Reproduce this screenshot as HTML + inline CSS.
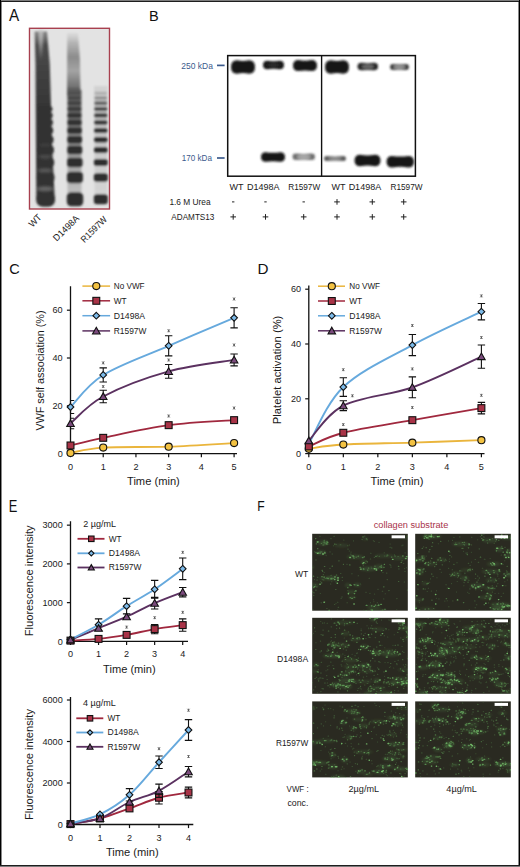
<!DOCTYPE html>
<html><head><meta charset="utf-8"><style>
html,body{margin:0;padding:0;background:#fff;width:520px;height:867px;overflow:hidden}
svg{display:block}
</style></head><body>
<svg width="520" height="867" viewBox="0 0 520 867" font-family='"Liberation Sans", sans-serif'>
<defs>
<filter id="b1" x="-30%" y="-60%" width="160%" height="220%"><feGaussianBlur stdDeviation="1.1"/></filter>
<filter id="b2" x="-30%" y="-60%" width="160%" height="220%"><feGaussianBlur stdDeviation="1.6"/></filter>
<filter id="b05" x="-30%" y="-30%" width="160%" height="160%"><feGaussianBlur stdDeviation="0.6"/></filter>
<filter id="gb" x="-100%" y="-100%" width="300%" height="300%"><feGaussianBlur stdDeviation="0.6"/></filter>
<filter id="hz" x="-50%" y="-50%" width="200%" height="200%"><feGaussianBlur stdDeviation="1.3"/></filter>
<linearGradient id="smear" x1="0" y1="0" x2="0" y2="1">
 <stop offset="0" stop-color="#555" stop-opacity="0.6"/>
 <stop offset="0.3" stop-color="#333" stop-opacity="0.95"/>
 <stop offset="1" stop-color="#2a2a2a" stop-opacity="1"/>
</linearGradient>
<linearGradient id="smearD" x1="0" y1="0" x2="0" y2="1">
 <stop offset="0" stop-color="#c4c4c4" stop-opacity="0.3"/>
 <stop offset="0.15" stop-color="#b0b0b0" stop-opacity="0.9"/>
 <stop offset="0.38" stop-color="#8c8c8c" stop-opacity="1"/>
 <stop offset="0.6" stop-color="#a4a4a4" stop-opacity="1"/>
 <stop offset="0.78" stop-color="#808080" stop-opacity="1"/>
 <stop offset="1" stop-color="#5a5a5a" stop-opacity="1"/>
</linearGradient>
<linearGradient id="wtS" x1="0" y1="0" x2="0" y2="1">
 <stop offset="0" stop-color="#777"/>
 <stop offset="0.4" stop-color="#4a4a4a"/>
 <stop offset="1" stop-color="#404040"/>
</linearGradient>
<linearGradient id="wtB" x1="0" y1="0" x2="0" y2="1">
 <stop offset="0" stop-color="#6a6a6a" stop-opacity="0.8"/>
 <stop offset="0.08" stop-color="#4a4a4a" stop-opacity="1"/>
 <stop offset="0.3" stop-color="#3e3e3e" stop-opacity="1"/>
 <stop offset="0.45" stop-color="#353535" stop-opacity="1"/>
 <stop offset="1" stop-color="#323232" stop-opacity="1"/>
</linearGradient>
<linearGradient id="laneD" x1="0" y1="0" x2="0" y2="1">
 <stop offset="0" stop-color="#5e5e5e"/>
 <stop offset="0.45" stop-color="#8c8c8c"/>
 <stop offset="0.75" stop-color="#b0b0b0"/>
 <stop offset="1" stop-color="#c4c4c4"/>
</linearGradient>
<linearGradient id="laneR" x1="0" y1="0" x2="0" y2="1">
 <stop offset="0" stop-color="#b8b8b8"/>
 <stop offset="0.5" stop-color="#c4c4c4"/>
 <stop offset="1" stop-color="#d2d2d2"/>
</linearGradient>
</defs>
<rect width="520" height="867" fill="#fff"/>
<text x="8.9" y="20.8" font-size="15.6" text-anchor="start" fill="#111" textLength="10.2" lengthAdjust="spacingAndGlyphs" >A</text>
<rect x="29.5" y="28.3" width="80.0" height="180.7" fill="#e3e3e3"/>
<g filter="url(#b1)">
<path d="M34.6 31.5 L47 31.5 L49.8 64 L52.3 150 L54.8 200 L36.3 200 L36 150 L35.5 64 Z" fill="url(#wtB)"/>
<path d="M38.6 30 L43.2 30 L41.4 50 L41 60 Z" fill="#c4c4c4" fill-opacity="0.95" filter="url(#b1)"/>
<rect x="36.10" y="191.80" width="19.00" height="15.00" rx="6.75" fill="#303030"/>
<rect x="36.55" y="171.25" width="18.00" height="12.50" rx="5.62" fill="#303030"/>
<rect x="36.75" y="157.00" width="17.50" height="11.00" rx="4.95" fill="#303030"/>
<rect x="36.95" y="145.50" width="17.00" height="9.00" rx="4.05" fill="#303030"/>
<rect x="37.20" y="135.70" width="16.40" height="8.00" rx="3.60" fill="#303030"/>
<rect x="37.45" y="127.00" width="15.80" height="7.00" rx="3.15" fill="#303030"/>
<rect x="37.65" y="119.25" width="15.30" height="6.50" rx="2.93" fill="#303030"/>
<rect x="37.80" y="112.40" width="14.90" height="6.00" rx="2.70" fill="#303030"/>
<rect x="37.90" y="106.25" width="14.60" height="5.50" rx="2.48" fill="#303030"/>
<ellipse cx="45.2" cy="188.90" rx="8.50" ry="2.40" fill="#8e8e8e" fill-opacity="0.60" filter="url(#b1)"/>
<ellipse cx="45.2" cy="170.50" rx="7.50" ry="2.05" fill="#8e8e8e" fill-opacity="0.46" filter="url(#b1)"/>
<ellipse cx="45.2" cy="156.75" rx="6.50" ry="1.70" fill="#8e8e8e" fill-opacity="0.32" filter="url(#b1)"/>
<ellipse cx="45.2" cy="145.35" rx="5.50" ry="1.35" fill="#8e8e8e" fill-opacity="0.18" filter="url(#b1)"/>
</g>
<g filter="url(#b1)">
<path d="M67.2 33 L78 33 L80 60 L80.5 96 L67 96 Z" fill="url(#smearD)"/>
<rect x="67.5" y="90" width="14" height="112" fill="url(#laneD)"/>
<rect x="66.75" y="192.30" width="16.50" height="14.00" rx="4.48" fill="#2e2e2e" fill-opacity="1"/>
<rect x="66.92" y="171.75" width="16.00" height="11.50" rx="3.68" fill="#2e2e2e" fill-opacity="1"/>
<rect x="67.09" y="157.75" width="15.50" height="9.50" rx="3.04" fill="#2e2e2e" fill-opacity="1"/>
<rect x="67.26" y="145.75" width="15.00" height="8.50" rx="2.72" fill="#2e2e2e" fill-opacity="1"/>
<rect x="67.28" y="135.95" width="14.80" height="7.50" rx="2.40" fill="#2e2e2e" fill-opacity="1"/>
<rect x="67.35" y="127.25" width="14.50" height="6.50" rx="2.08" fill="#2e2e2e" fill-opacity="1"/>
<rect x="67.42" y="119.50" width="14.20" height="6.00" rx="1.92" fill="#2e2e2e" fill-opacity="0.95"/>
<rect x="67.44" y="112.80" width="14.00" height="5.20" rx="1.66" fill="#2e2e2e" fill-opacity="0.9"/>
<rect x="67.46" y="106.70" width="13.80" height="4.60" rx="1.47" fill="#2e2e2e" fill-opacity="0.8"/>
<rect x="67.48" y="101.10" width="13.60" height="4.20" rx="1.34" fill="#2e2e2e" fill-opacity="0.65"/>
<rect x="67.50" y="96.10" width="13.40" height="3.80" rx="1.22" fill="#2e2e2e" fill-opacity="0.5"/>
<rect x="67.52" y="91.60" width="13.20" height="3.40" rx="1.09" fill="#2e2e2e" fill-opacity="0.35"/>
<rect x="67.54" y="87.45" width="13.00" height="3.10" rx="0.99" fill="#2e2e2e" fill-opacity="0.25"/>
</g>
<g filter="url(#b1)">
<rect x="94" y="86" width="13.5" height="24" fill="#aaa" fill-opacity="0.3"/>
<rect x="94.5" y="100" width="12.5" height="102" fill="url(#laneR)" fill-opacity="0.8"/>
<rect x="93.80" y="194.30" width="14.00" height="10.00" rx="3.20" fill="#2e2e2e" fill-opacity="1"/>
<rect x="93.80" y="173.25" width="14.00" height="8.50" rx="2.72" fill="#2e2e2e" fill-opacity="1"/>
<rect x="93.90" y="159.00" width="13.80" height="7.00" rx="2.24" fill="#2e2e2e" fill-opacity="1"/>
<rect x="94.00" y="147.00" width="13.60" height="6.00" rx="1.92" fill="#2e2e2e" fill-opacity="1"/>
<rect x="94.10" y="136.95" width="13.40" height="5.50" rx="1.76" fill="#2e2e2e" fill-opacity="1"/>
<rect x="94.20" y="128.00" width="13.20" height="5.00" rx="1.60" fill="#2e2e2e" fill-opacity="0.95"/>
<rect x="94.30" y="120.25" width="13.00" height="4.50" rx="1.44" fill="#2e2e2e" fill-opacity="0.92"/>
<rect x="94.30" y="113.30" width="13.00" height="4.20" rx="1.34" fill="#2e2e2e" fill-opacity="0.88"/>
<rect x="94.40" y="107.10" width="12.80" height="3.80" rx="1.22" fill="#2e2e2e" fill-opacity="0.8"/>
<rect x="94.50" y="101.45" width="12.60" height="3.50" rx="1.12" fill="#2e2e2e" fill-opacity="0.65"/>
<rect x="94.55" y="96.40" width="12.50" height="3.20" rx="1.02" fill="#2e2e2e" fill-opacity="0.45"/>
<rect x="94.60" y="91.80" width="12.40" height="3.00" rx="0.96" fill="#2e2e2e" fill-opacity="0.22"/>
</g>
<rect x="29.5" y="28.3" width="80.0" height="180.7" fill="none" stroke="#a8404f" stroke-width="1.4"/>
<text x="39.8" y="215.6" font-size="9.4" text-anchor="end" fill="#1a1a1a" transform="rotate(-45 39.8 215.6)" dy="3.4" textLength="13.8" lengthAdjust="spacingAndGlyphs">WT</text>
<text x="77.2" y="216.6" font-size="9.4" text-anchor="end" fill="#1a1a1a" transform="rotate(-45 77.2 216.6)" dy="3.4" textLength="32.2" lengthAdjust="spacingAndGlyphs">D1498A</text>
<text x="105.2" y="217.6" font-size="9.4" text-anchor="end" fill="#1a1a1a" transform="rotate(-45 105.2 217.6)" dy="3.4" textLength="32.8" lengthAdjust="spacingAndGlyphs">R1597W</text>
<text x="149" y="20.8" font-size="14.5" text-anchor="start" fill="#111" >B</text>
<g filter="url(#b1)">
<path d="M237.00 60.25Q243.00 61.73 249.00 60.25Q255.00 60.25 255.00 67.00Q255.00 73.75 249.00 73.75Q243.00 72.27 237.00 73.75Q231.00 73.75 231.00 67.00Q231.00 60.25 237.00 60.25Z" fill="#151515" fill-opacity="1"/>
<path d="M267.25 60.75Q273.50 61.69 279.75 60.75Q284.00 60.75 284.00 65.00Q284.00 69.25 279.75 69.25Q273.50 68.31 267.25 69.25Q263.00 69.25 263.00 65.00Q263.00 60.75 267.25 60.75Z" fill="#151515" fill-opacity="1"/>
<ellipse cx="273.50" cy="65.00" rx="6.30" ry="2.55" fill="#fff" fill-opacity="0.1"/>
<path d="M298.50 60.10Q305.00 61.31 311.50 60.10Q317.00 60.10 317.00 65.60Q317.00 71.10 311.50 71.10Q305.00 69.89 298.50 71.10Q293.00 71.10 293.00 65.60Q293.00 60.10 298.50 60.10Z" fill="#151515" fill-opacity="1"/>
<path d="M331.00 60.25Q337.00 61.73 343.00 60.25Q349.00 60.25 349.00 67.00Q349.00 73.75 343.00 73.75Q337.00 72.27 331.00 73.75Q325.00 73.75 325.00 67.00Q325.00 60.25 331.00 60.25Z" fill="#151515" fill-opacity="1"/>
<path d="M361.25 62.85Q367.75 63.67 374.25 62.85Q378.00 62.85 378.00 66.60Q378.00 70.35 374.25 70.35Q367.75 69.52 361.25 70.35Q357.50 70.35 357.50 66.60Q357.50 62.85 361.25 62.85Z" fill="#1a1a1a" fill-opacity="0.95"/>
<ellipse cx="367.75" cy="66.60" rx="6.15" ry="2.25" fill="#fff" fill-opacity="0.3"/>
<path d="M393.00 64.00Q399.50 64.66 406.00 64.00Q409.00 64.00 409.00 67.00Q409.00 70.00 406.00 70.00Q399.50 69.34 393.00 70.00Q390.00 70.00 390.00 67.00Q390.00 64.00 393.00 64.00Z" fill="#222" fill-opacity="0.85"/>
<ellipse cx="399.50" cy="67.00" rx="5.70" ry="1.80" fill="#fff" fill-opacity="0.45"/>
<path d="M265.75 152.25Q273.00 153.29 280.25 152.25Q285.00 152.25 285.00 157.00Q285.00 161.75 280.25 161.75Q273.00 160.71 265.75 161.75Q261.00 161.75 261.00 157.00Q261.00 152.25 265.75 152.25Z" fill="#151515" fill-opacity="1"/>
<path d="M295.75 153.55Q303.75 154.27 311.75 153.55Q315.00 153.55 315.00 156.80Q315.00 160.05 311.75 160.05Q303.75 159.34 295.75 160.05Q292.50 160.05 292.50 156.80Q292.50 153.55 295.75 153.55Z" fill="#333" fill-opacity="0.7"/>
<ellipse cx="303.75" cy="156.80" rx="6.75" ry="1.95" fill="#fff" fill-opacity="0.4"/>
<path d="M326.50 156.10Q335.00 156.65 343.50 156.10Q346.00 156.10 346.00 158.60Q346.00 161.10 343.50 161.10Q335.00 160.55 326.50 161.10Q324.00 161.10 324.00 158.60Q324.00 156.10 326.50 156.10Z" fill="#333" fill-opacity="0.8"/>
<ellipse cx="335.00" cy="158.60" rx="6.60" ry="1.50" fill="#fff" fill-opacity="0.3"/>
<path d="M360.25 154.75Q367.50 156.01 374.75 154.75Q380.50 154.75 380.50 160.50Q380.50 166.25 374.75 166.25Q367.50 164.99 360.25 166.25Q354.50 166.25 354.50 160.50Q354.50 154.75 360.25 154.75Z" fill="#151515" fill-opacity="1"/>
<path d="M392.25 155.95Q400.25 157.21 408.25 155.95Q414.00 155.95 414.00 161.70Q414.00 167.45 408.25 167.45Q400.25 166.19 392.25 167.45Q386.50 167.45 386.50 161.70Q386.50 155.95 392.25 155.95Z" fill="#151515" fill-opacity="1"/>
</g>
<rect x="227.7" y="55.6" width="187.7" height="120.6" fill="none" stroke="#111" stroke-width="1.5"/>
<line x1="321.6" y1="55.6" x2="321.6" y2="176.2" stroke="#111" stroke-width="1.4"/>
<text x="212.9" y="68.6" font-size="9.2" text-anchor="end" fill="#3b5a8c" textLength="31.6" lengthAdjust="spacingAndGlyphs" >250 kDa</text>
<text x="212.0" y="161.2" font-size="9.2" text-anchor="end" fill="#3b5a8c" textLength="30.2" lengthAdjust="spacingAndGlyphs" >170 kDa</text>
<line x1="217" y1="65.4" x2="224.6" y2="65.4" stroke="#3b5a8c" stroke-width="1.7"/>
<line x1="217" y1="158" x2="224.6" y2="158" stroke="#3b5a8c" stroke-width="1.7"/>
<text x="236.6" y="190.2" font-size="9" text-anchor="middle" fill="#1a1a1a" >WT</text>
<text x="263.3" y="190.2" font-size="9" text-anchor="middle" fill="#1a1a1a" >D1498A</text>
<text x="304.2" y="190.2" font-size="9" text-anchor="middle" fill="#1a1a1a" textLength="32" lengthAdjust="spacingAndGlyphs" >R1597W</text>
<text x="338.4" y="190.2" font-size="9" text-anchor="middle" fill="#1a1a1a" >WT</text>
<text x="364.9" y="190.2" font-size="9" text-anchor="middle" fill="#1a1a1a" >D1498A</text>
<text x="406.5" y="190.2" font-size="9" text-anchor="middle" fill="#1a1a1a" textLength="32" lengthAdjust="spacingAndGlyphs" >R1597W</text>
<text x="169.4" y="204.6" font-size="9" text-anchor="start" fill="#1a1a1a" textLength="41.2" lengthAdjust="spacingAndGlyphs" >1.6 M Urea</text>
<text x="171.3" y="219.9" font-size="9" text-anchor="start" fill="#1a1a1a" textLength="43.1" lengthAdjust="spacingAndGlyphs" >ADAMTS13</text>
<line x1="232.0" y1="201.9" x2="234.39999999999998" y2="201.9" stroke="#222" stroke-width="1"/>
<path d="M230.39999999999998 216.9H236.0M233.2 214.1V219.7" stroke="#222" stroke-width="1"/>
<line x1="264.3" y1="201.9" x2="266.7" y2="201.9" stroke="#222" stroke-width="1"/>
<path d="M262.7 216.9H268.3M265.5 214.1V219.7" stroke="#222" stroke-width="1"/>
<line x1="302.5" y1="201.9" x2="304.9" y2="201.9" stroke="#222" stroke-width="1"/>
<path d="M300.9 216.9H306.5M303.7 214.1V219.7" stroke="#222" stroke-width="1"/>
<path d="M334.2 201.9H339.8M337 199.1V204.7" stroke="#222" stroke-width="1"/>
<path d="M334.2 216.9H339.8M337 214.1V219.7" stroke="#222" stroke-width="1"/>
<path d="M369.5 201.9H375.1M372.3 199.1V204.7" stroke="#222" stroke-width="1"/>
<path d="M369.5 216.9H375.1M372.3 214.1V219.7" stroke="#222" stroke-width="1"/>
<path d="M400.9 201.9H406.5M403.7 199.1V204.7" stroke="#222" stroke-width="1"/>
<path d="M400.9 216.9H406.5M403.7 214.1V219.7" stroke="#222" stroke-width="1"/>
<text x="9.3" y="274.3" font-size="14.5" text-anchor="start" fill="#111" >C</text>
<path d="M70.5 286.2V453.6H237" stroke="#111" stroke-width="1.3" fill="none"/>
<line x1="70.5" y1="453.6" x2="70.5" y2="457.20000000000005" stroke="#111" stroke-width="1.2"/>
<text x="70.5" y="469.6" font-size="9.1" text-anchor="middle" fill="#1a1a1a" >0</text>
<line x1="103.22" y1="453.6" x2="103.22" y2="457.20000000000005" stroke="#111" stroke-width="1.2"/>
<text x="103.22" y="469.6" font-size="9.1" text-anchor="middle" fill="#1a1a1a" >1</text>
<line x1="135.94" y1="453.6" x2="135.94" y2="457.20000000000005" stroke="#111" stroke-width="1.2"/>
<text x="135.94" y="469.6" font-size="9.1" text-anchor="middle" fill="#1a1a1a" >2</text>
<line x1="168.66" y1="453.6" x2="168.66" y2="457.20000000000005" stroke="#111" stroke-width="1.2"/>
<text x="168.66" y="469.6" font-size="9.1" text-anchor="middle" fill="#1a1a1a" >3</text>
<line x1="201.38" y1="453.6" x2="201.38" y2="457.20000000000005" stroke="#111" stroke-width="1.2"/>
<text x="201.38" y="469.6" font-size="9.1" text-anchor="middle" fill="#1a1a1a" >4</text>
<line x1="234.1" y1="453.6" x2="234.1" y2="457.20000000000005" stroke="#111" stroke-width="1.2"/>
<text x="234.1" y="469.6" font-size="9.1" text-anchor="middle" fill="#1a1a1a" >5</text>
<line x1="66.9" y1="453.6" x2="70.5" y2="453.6" stroke="#111" stroke-width="1.2"/>
<text x="62.7" y="456.70000000000005" font-size="9.1" text-anchor="end" fill="#1a1a1a" >0</text>
<line x1="66.9" y1="405.8" x2="70.5" y2="405.8" stroke="#111" stroke-width="1.2"/>
<text x="62.7" y="408.90000000000003" font-size="9.1" text-anchor="end" fill="#1a1a1a" >20</text>
<line x1="66.9" y1="358.0" x2="70.5" y2="358.0" stroke="#111" stroke-width="1.2"/>
<text x="62.7" y="361.1" font-size="9.1" text-anchor="end" fill="#1a1a1a" >40</text>
<line x1="66.9" y1="310.20000000000005" x2="70.5" y2="310.20000000000005" stroke="#111" stroke-width="1.2"/>
<text x="62.7" y="313.30000000000007" font-size="9.1" text-anchor="end" fill="#1a1a1a" >60</text>
<text transform="translate(43.9 370.5) rotate(-90)" font-size="10.9" text-anchor="middle" fill="#1a1a1a" textLength="120" lengthAdjust="spacingAndGlyphs">VWF self association (%)</text>
<text x="153.4" y="485" font-size="11.2" text-anchor="middle" fill="#1a1a1a" textLength="52.8" lengthAdjust="spacingAndGlyphs" >Time (min)</text>
<path d="M70.50 452.88C75.95 452.01 86.86 448.66 103.22 447.62C119.58 446.59 146.85 447.43 168.66 446.67C190.47 445.91 223.19 443.68 234.10 443.08" stroke="#eab53c" stroke-width="1.9" fill="none"/>
<path d="M70.50 445.47C75.95 444.20 86.86 441.21 103.22 437.83C119.58 434.44 146.85 428.11 168.66 425.16C190.47 422.21 223.19 420.98 234.10 420.14" stroke="#a0283e" stroke-width="1.9" fill="none"/>
<path d="M70.50 423.49C75.95 418.98 86.86 405.16 103.22 396.48C119.58 387.80 146.85 377.48 168.66 371.38C190.47 365.29 223.19 361.82 234.10 359.91" stroke="#5b3160" stroke-width="1.9" fill="none"/>
<path d="M70.50 407.00C75.95 401.66 86.86 385.17 103.22 374.97C119.58 364.77 146.85 355.33 168.66 345.81C190.47 336.29 223.19 322.51 234.10 317.85" stroke="#66a9dd" stroke-width="1.9" fill="none"/>
<circle cx="70.50" cy="452.88" r="3.55" fill="#f3c242" stroke="#111" stroke-width="1.1"/>
<circle cx="103.22" cy="447.62" r="3.55" fill="#f3c242" stroke="#111" stroke-width="1.1"/>
<circle cx="168.66" cy="446.67" r="3.55" fill="#f3c242" stroke="#111" stroke-width="1.1"/>
<circle cx="234.10" cy="443.08" r="3.55" fill="#f3c242" stroke="#111" stroke-width="1.1"/>
<rect x="67.05" y="442.02" width="6.90" height="6.90" fill="#a83347" stroke="#111" stroke-width="1.1"/>
<rect x="99.77" y="434.38" width="6.90" height="6.90" fill="#a83347" stroke="#111" stroke-width="1.1"/>
<rect x="165.21" y="421.71" width="6.90" height="6.90" fill="#a83347" stroke="#111" stroke-width="1.1"/>
<rect x="230.65" y="416.69" width="6.90" height="6.90" fill="#a83347" stroke="#111" stroke-width="1.1"/>
<path d="M70.50 418.23V428.74M70.50 418.23H74.20M70.50 428.74H74.20" stroke="#111" stroke-width="1.1" fill="none"/>
<path d="M70.50 419.89L74.28 426.55L66.72 426.55Z" fill="#7b4b7d" stroke="#111" stroke-width="1.1" stroke-linejoin="miter"/>
<path d="M103.22 390.27V402.69M99.52 390.27H106.92M99.52 402.69H106.92" stroke="#111" stroke-width="1.1" fill="none"/>
<path d="M103.22 392.88L107.00 399.54L99.44 399.54Z" fill="#7b4b7d" stroke="#111" stroke-width="1.1" stroke-linejoin="miter"/>
<path d="M168.66 364.45V378.32M164.96 364.45H172.36M164.96 378.32H172.36" stroke="#111" stroke-width="1.1" fill="none"/>
<path d="M168.66 367.78L172.44 374.44L164.88 374.44Z" fill="#7b4b7d" stroke="#111" stroke-width="1.1" stroke-linejoin="miter"/>
<path d="M234.10 353.94V365.89M230.40 353.94H237.80M230.40 365.89H237.80" stroke="#111" stroke-width="1.1" fill="none"/>
<path d="M234.10 356.31L237.88 362.97L230.32 362.97Z" fill="#7b4b7d" stroke="#111" stroke-width="1.1" stroke-linejoin="miter"/>
<path d="M70.50 400.54V413.45M70.50 400.54H74.20M70.50 413.45H74.20" stroke="#111" stroke-width="1.1" fill="none"/>
<path d="M70.50 403.64L73.85 407.00L70.50 410.35L67.15 407.00Z" fill="#7dbbea" stroke="#111" stroke-width="1.1"/>
<path d="M103.22 367.92V382.02M99.52 367.92H106.92M99.52 382.02H106.92" stroke="#111" stroke-width="1.1" fill="none"/>
<path d="M103.22 371.62L106.57 374.97L103.22 378.32L99.87 374.97Z" fill="#7dbbea" stroke="#111" stroke-width="1.1"/>
<path d="M168.66 335.77V355.85M164.96 335.77H172.36M164.96 355.85H172.36" stroke="#111" stroke-width="1.1" fill="none"/>
<path d="M168.66 342.46L172.01 345.81L168.66 349.16L165.31 345.81Z" fill="#7dbbea" stroke="#111" stroke-width="1.1"/>
<path d="M234.10 307.81V327.89M230.40 307.81H237.80M230.40 327.89H237.80" stroke="#111" stroke-width="1.1" fill="none"/>
<path d="M234.10 314.50L237.45 317.85L234.10 321.20L230.75 317.85Z" fill="#7dbbea" stroke="#111" stroke-width="1.1"/>
<path d="M102.12 361.50L104.32 364.30M104.32 361.50L102.12 364.30M103.22 361.40V364.40" stroke="#555" stroke-width="0.8" fill="none"/>
<path d="M102.12 385.10L104.32 387.90M104.32 385.10L102.12 387.90M103.22 385.00V388.00" stroke="#555" stroke-width="0.8" fill="none"/>
<path d="M167.56 329.40L169.76 332.20M169.76 329.40L167.56 332.20M168.66 329.30V332.30" stroke="#555" stroke-width="0.8" fill="none"/>
<path d="M167.56 358.60L169.76 361.40M169.76 358.60L167.56 361.40M168.66 358.50V361.50" stroke="#555" stroke-width="0.8" fill="none"/>
<path d="M167.56 414.60L169.76 417.40M169.76 414.60L167.56 417.40M168.66 414.50V417.50" stroke="#555" stroke-width="0.8" fill="none"/>
<path d="M233.00 297.60L235.20 300.40M235.20 297.60L233.00 300.40M234.10 297.50V300.50" stroke="#555" stroke-width="0.8" fill="none"/>
<path d="M233.00 343.60L235.20 346.40M235.20 343.60L233.00 346.40M234.10 343.50V346.50" stroke="#555" stroke-width="0.8" fill="none"/>
<path d="M233.00 406.60L235.20 409.40M235.20 406.60L233.00 409.40M234.10 406.50V409.50" stroke="#555" stroke-width="0.8" fill="none"/>
<line x1="82.4" y1="286.1" x2="110.1" y2="286.1" stroke="#eab53c" stroke-width="1.5"/>
<circle cx="96.30" cy="286.10" r="3.55" fill="#f3c242" stroke="#111" stroke-width="1.1"/>
<text x="113.8" y="289.0" font-size="8.7" text-anchor="start" fill="#1a1a1a" textLength="30.8" lengthAdjust="spacingAndGlyphs" >No VWF</text>
<line x1="82.4" y1="300.8" x2="110.1" y2="300.8" stroke="#a0283e" stroke-width="1.5"/>
<rect x="92.85" y="297.35" width="6.90" height="6.90" fill="#a83347" stroke="#111" stroke-width="1.1"/>
<text x="113.8" y="303.7" font-size="8.7" text-anchor="start" fill="#1a1a1a" textLength="12.9" lengthAdjust="spacingAndGlyphs" >WT</text>
<line x1="82.4" y1="315.7" x2="110.1" y2="315.7" stroke="#66a9dd" stroke-width="1.5"/>
<path d="M96.30 312.35L99.65 315.70L96.30 319.05L92.95 315.70Z" fill="#7dbbea" stroke="#111" stroke-width="1.1"/>
<text x="113.8" y="318.59999999999997" font-size="8.7" text-anchor="start" fill="#1a1a1a" textLength="31.2" lengthAdjust="spacingAndGlyphs" >D1498A</text>
<line x1="82.4" y1="330.9" x2="110.1" y2="330.9" stroke="#5b3160" stroke-width="1.5"/>
<path d="M96.30 327.30L100.08 333.96L92.52 333.96Z" fill="#7b4b7d" stroke="#111" stroke-width="1.1" stroke-linejoin="miter"/>
<text x="113.8" y="333.79999999999995" font-size="8.7" text-anchor="start" fill="#1a1a1a" textLength="32.6" lengthAdjust="spacingAndGlyphs" >R1597W</text>
<text x="257.6" y="273.6" font-size="15.4" text-anchor="start" fill="#111" textLength="11" lengthAdjust="spacingAndGlyphs" >D</text>
<path d="M308.8 285.5V453.6H484.5" stroke="#111" stroke-width="1.3" fill="none"/>
<line x1="308.8" y1="453.6" x2="308.8" y2="457.20000000000005" stroke="#111" stroke-width="1.2"/>
<text x="308.8" y="469.6" font-size="9.1" text-anchor="middle" fill="#1a1a1a" >0</text>
<line x1="343.32" y1="453.6" x2="343.32" y2="457.20000000000005" stroke="#111" stroke-width="1.2"/>
<text x="343.32" y="469.6" font-size="9.1" text-anchor="middle" fill="#1a1a1a" >1</text>
<line x1="377.84000000000003" y1="453.6" x2="377.84000000000003" y2="457.20000000000005" stroke="#111" stroke-width="1.2"/>
<text x="377.84000000000003" y="469.6" font-size="9.1" text-anchor="middle" fill="#1a1a1a" >2</text>
<line x1="412.36" y1="453.6" x2="412.36" y2="457.20000000000005" stroke="#111" stroke-width="1.2"/>
<text x="412.36" y="469.6" font-size="9.1" text-anchor="middle" fill="#1a1a1a" >3</text>
<line x1="446.88" y1="453.6" x2="446.88" y2="457.20000000000005" stroke="#111" stroke-width="1.2"/>
<text x="446.88" y="469.6" font-size="9.1" text-anchor="middle" fill="#1a1a1a" >4</text>
<line x1="481.40000000000003" y1="453.6" x2="481.40000000000003" y2="457.20000000000005" stroke="#111" stroke-width="1.2"/>
<text x="481.40000000000003" y="469.6" font-size="9.1" text-anchor="middle" fill="#1a1a1a" >5</text>
<line x1="305.2" y1="453.6" x2="308.8" y2="453.6" stroke="#111" stroke-width="1.2"/>
<text x="301.0" y="456.70000000000005" font-size="9.1" text-anchor="end" fill="#1a1a1a" >0</text>
<line x1="305.2" y1="398.8" x2="308.8" y2="398.8" stroke="#111" stroke-width="1.2"/>
<text x="301.0" y="401.90000000000003" font-size="9.1" text-anchor="end" fill="#1a1a1a" >20</text>
<line x1="305.2" y1="344.0" x2="308.8" y2="344.0" stroke="#111" stroke-width="1.2"/>
<text x="301.0" y="347.1" font-size="9.1" text-anchor="end" fill="#1a1a1a" >40</text>
<line x1="305.2" y1="289.20000000000005" x2="308.8" y2="289.20000000000005" stroke="#111" stroke-width="1.2"/>
<text x="301.0" y="292.30000000000007" font-size="9.1" text-anchor="end" fill="#1a1a1a" >60</text>
<text transform="translate(281.4 369.9) rotate(-90)" font-size="10.8" text-anchor="middle" fill="#1a1a1a" textLength="108.5" lengthAdjust="spacingAndGlyphs">Platelet activation (%)</text>
<text x="397" y="485" font-size="11.2" text-anchor="middle" fill="#1a1a1a" textLength="52.8" lengthAdjust="spacingAndGlyphs" >Time (min)</text>
<path d="M308.80 448.67C314.55 447.98 326.06 445.56 343.32 444.56C360.58 443.55 389.35 443.37 412.36 442.64C435.37 441.91 469.89 440.59 481.40 440.17" stroke="#eab53c" stroke-width="1.9" fill="none"/>
<path d="M308.80 446.48C314.55 444.19 326.06 437.16 343.32 432.78C360.58 428.39 389.35 424.28 412.36 420.17C435.37 416.06 469.89 410.13 481.40 408.12" stroke="#a0283e" stroke-width="1.9" fill="none"/>
<path d="M308.80 444.01C314.55 434.51 326.06 403.50 343.32 387.02C360.58 370.53 389.35 357.65 412.36 345.10C435.37 332.54 469.89 317.24 481.40 311.67" stroke="#66a9dd" stroke-width="1.9" fill="none"/>
<path d="M308.80 440.72C314.55 434.88 326.06 414.56 343.32 405.65C360.58 396.75 389.35 395.47 412.36 387.29C435.37 379.12 469.89 361.72 481.40 356.60" stroke="#5b3160" stroke-width="1.9" fill="none"/>
<circle cx="308.80" cy="448.67" r="3.55" fill="#f3c242" stroke="#111" stroke-width="1.1"/>
<circle cx="343.32" cy="444.56" r="3.55" fill="#f3c242" stroke="#111" stroke-width="1.1"/>
<circle cx="412.36" cy="442.64" r="3.55" fill="#f3c242" stroke="#111" stroke-width="1.1"/>
<circle cx="481.40" cy="440.17" r="3.55" fill="#f3c242" stroke="#111" stroke-width="1.1"/>
<path d="M308.80 440.66L312.15 444.01L308.80 447.36L305.45 444.01Z" fill="#7dbbea" stroke="#111" stroke-width="1.1"/>
<path d="M343.32 377.70V396.33M339.62 377.70H347.02M339.62 396.33H347.02" stroke="#111" stroke-width="1.1" fill="none"/>
<path d="M343.32 383.67L346.67 387.02L343.32 390.37L339.97 387.02Z" fill="#7dbbea" stroke="#111" stroke-width="1.1"/>
<path d="M412.36 334.55V355.65M408.66 334.55H416.06M408.66 355.65H416.06" stroke="#111" stroke-width="1.1" fill="none"/>
<path d="M412.36 341.75L415.71 345.10L412.36 348.45L409.01 345.10Z" fill="#7dbbea" stroke="#111" stroke-width="1.1"/>
<path d="M481.40 303.45V319.89M477.70 303.45H485.10M477.70 319.89H485.10" stroke="#111" stroke-width="1.1" fill="none"/>
<path d="M481.40 308.32L484.75 311.67L481.40 315.02L478.05 311.67Z" fill="#7dbbea" stroke="#111" stroke-width="1.1"/>
<rect x="305.35" y="443.03" width="6.90" height="6.90" fill="#a83347" stroke="#111" stroke-width="1.1"/>
<rect x="339.87" y="429.33" width="6.90" height="6.90" fill="#a83347" stroke="#111" stroke-width="1.1"/>
<rect x="408.91" y="416.72" width="6.90" height="6.90" fill="#a83347" stroke="#111" stroke-width="1.1"/>
<path d="M481.40 402.36V413.87M477.70 402.36H485.10M477.70 413.87H485.10" stroke="#111" stroke-width="1.1" fill="none"/>
<rect x="477.95" y="404.67" width="6.90" height="6.90" fill="#a83347" stroke="#111" stroke-width="1.1"/>
<path d="M308.80 437.12L312.58 443.78L305.02 443.78Z" fill="#7b4b7d" stroke="#111" stroke-width="1.1" stroke-linejoin="miter"/>
<path d="M343.32 400.72V410.58M339.62 400.72H347.02M339.62 410.58H347.02" stroke="#111" stroke-width="1.1" fill="none"/>
<path d="M343.32 402.05L347.10 408.71L339.54 408.71Z" fill="#7b4b7d" stroke="#111" stroke-width="1.1" stroke-linejoin="miter"/>
<path d="M412.36 376.88V397.70M408.66 376.88H416.06M408.66 397.70H416.06" stroke="#111" stroke-width="1.1" fill="none"/>
<path d="M412.36 383.69L416.14 390.35L408.58 390.35Z" fill="#7b4b7d" stroke="#111" stroke-width="1.1" stroke-linejoin="miter"/>
<path d="M481.40 344.96V368.25M477.70 344.96H485.10M477.70 368.25H485.10" stroke="#111" stroke-width="1.1" fill="none"/>
<path d="M481.40 353.00L485.18 359.66L477.62 359.66Z" fill="#7b4b7d" stroke="#111" stroke-width="1.1" stroke-linejoin="miter"/>
<path d="M342.22 368.30L344.42 371.10M344.42 368.30L342.22 371.10M343.32 368.20V371.20" stroke="#555" stroke-width="0.8" fill="none"/>
<path d="M351.32 394.40L353.52 397.20M353.52 394.40L351.32 397.20M352.42 394.30V397.30" stroke="#555" stroke-width="0.8" fill="none"/>
<path d="M342.22 423.20L344.42 426.00M344.42 423.20L342.22 426.00M343.32 423.10V426.10" stroke="#555" stroke-width="0.8" fill="none"/>
<path d="M411.26 324.10L413.46 326.90M413.46 324.10L411.26 326.90M412.36 324.00V327.00" stroke="#555" stroke-width="0.8" fill="none"/>
<path d="M411.26 367.50L413.46 370.30M413.46 367.50L411.26 370.30M412.36 367.40V370.40" stroke="#555" stroke-width="0.8" fill="none"/>
<path d="M411.26 406.10L413.46 408.90M413.46 406.10L411.26 408.90M412.36 406.00V409.00" stroke="#555" stroke-width="0.8" fill="none"/>
<path d="M480.30 294.50L482.50 297.30M482.50 294.50L480.30 297.30M481.40 294.40V297.40" stroke="#555" stroke-width="0.8" fill="none"/>
<path d="M480.30 336.10L482.50 338.90M482.50 336.10L480.30 338.90M481.40 336.00V339.00" stroke="#555" stroke-width="0.8" fill="none"/>
<path d="M480.30 393.90L482.50 396.70M482.50 393.90L480.30 396.70M481.40 393.80V396.80" stroke="#555" stroke-width="0.8" fill="none"/>
<line x1="318" y1="286.2" x2="345" y2="286.2" stroke="#eab53c" stroke-width="1.5"/>
<circle cx="331.80" cy="286.20" r="3.55" fill="#f3c242" stroke="#111" stroke-width="1.1"/>
<text x="349.3" y="289.09999999999997" font-size="8.7" text-anchor="start" fill="#1a1a1a" textLength="30.8" lengthAdjust="spacingAndGlyphs" >No VWF</text>
<line x1="318" y1="301" x2="345" y2="301" stroke="#a0283e" stroke-width="1.5"/>
<rect x="328.35" y="297.55" width="6.90" height="6.90" fill="#a83347" stroke="#111" stroke-width="1.1"/>
<text x="349.3" y="303.9" font-size="8.7" text-anchor="start" fill="#1a1a1a" textLength="12.9" lengthAdjust="spacingAndGlyphs" >WT</text>
<line x1="318" y1="315.8" x2="345" y2="315.8" stroke="#66a9dd" stroke-width="1.5"/>
<path d="M331.80 312.45L335.15 315.80L331.80 319.15L328.45 315.80Z" fill="#7dbbea" stroke="#111" stroke-width="1.1"/>
<text x="349.3" y="318.7" font-size="8.7" text-anchor="start" fill="#1a1a1a" textLength="31.2" lengthAdjust="spacingAndGlyphs" >D1498A</text>
<line x1="318" y1="330.8" x2="345" y2="330.8" stroke="#5b3160" stroke-width="1.5"/>
<path d="M331.80 327.20L335.58 333.86L328.02 333.86Z" fill="#7b4b7d" stroke="#111" stroke-width="1.1" stroke-linejoin="miter"/>
<text x="349.3" y="333.7" font-size="8.7" text-anchor="start" fill="#1a1a1a" textLength="32.6" lengthAdjust="spacingAndGlyphs" >R1597W</text>
<text x="8.8" y="511.8" font-size="16" text-anchor="start" fill="#111" textLength="8.6" lengthAdjust="spacingAndGlyphs" >E</text>
<path d="M70.5 521.3V641.4H188" stroke="#111" stroke-width="1.3" fill="none"/>
<line x1="70.5" y1="641.4" x2="70.5" y2="645.0" stroke="#111" stroke-width="1.2"/>
<text x="70.5" y="657.4" font-size="9.1" text-anchor="middle" fill="#1a1a1a" >0</text>
<line x1="98.55" y1="641.4" x2="98.55" y2="645.0" stroke="#111" stroke-width="1.2"/>
<text x="98.55" y="657.4" font-size="9.1" text-anchor="middle" fill="#1a1a1a" >1</text>
<line x1="126.6" y1="641.4" x2="126.6" y2="645.0" stroke="#111" stroke-width="1.2"/>
<text x="126.6" y="657.4" font-size="9.1" text-anchor="middle" fill="#1a1a1a" >2</text>
<line x1="154.65" y1="641.4" x2="154.65" y2="645.0" stroke="#111" stroke-width="1.2"/>
<text x="154.65" y="657.4" font-size="9.1" text-anchor="middle" fill="#1a1a1a" >3</text>
<line x1="182.7" y1="641.4" x2="182.7" y2="645.0" stroke="#111" stroke-width="1.2"/>
<text x="182.7" y="657.4" font-size="9.1" text-anchor="middle" fill="#1a1a1a" >4</text>
<line x1="66.9" y1="641.4" x2="70.5" y2="641.4" stroke="#111" stroke-width="1.2"/>
<text x="62.7" y="644.5" font-size="9.1" text-anchor="end" fill="#1a1a1a" >0</text>
<line x1="66.9" y1="602.65" x2="70.5" y2="602.65" stroke="#111" stroke-width="1.2"/>
<text x="62.7" y="605.75" font-size="9.1" text-anchor="end" fill="#1a1a1a" >1000</text>
<line x1="66.9" y1="563.9" x2="70.5" y2="563.9" stroke="#111" stroke-width="1.2"/>
<text x="62.7" y="567.0" font-size="9.1" text-anchor="end" fill="#1a1a1a" >2000</text>
<line x1="66.9" y1="525.15" x2="70.5" y2="525.15" stroke="#111" stroke-width="1.2"/>
<text x="62.7" y="528.25" font-size="9.1" text-anchor="end" fill="#1a1a1a" >3000</text>
<text transform="translate(32.6 580.8) rotate(-90)" font-size="11.6" text-anchor="middle" fill="#1a1a1a" textLength="111" lengthAdjust="spacingAndGlyphs">Fluorescence intensity</text>
<text x="129.4" y="673" font-size="11.2" text-anchor="middle" fill="#1a1a1a" textLength="52.6" lengthAdjust="spacingAndGlyphs" >Time (min)</text>
<text x="83.3" y="527.3" font-size="9" text-anchor="start" fill="#1a1a1a" >2 µg/mL</text>
<path d="M70.50 640.62C75.17 640.33 89.20 639.84 98.55 638.88C107.90 637.93 117.25 636.52 126.60 634.89C135.95 633.26 145.30 630.70 154.65 629.08C164.00 627.45 178.02 625.78 182.70 625.12" stroke="#a0283e" stroke-width="1.9" fill="none"/>
<path d="M70.50 639.85C75.17 637.91 89.20 632.08 98.55 628.23C107.90 624.37 117.25 620.89 126.60 616.72C135.95 612.54 145.30 607.28 154.65 603.19C164.00 599.10 178.02 594.02 182.70 592.19" stroke="#5b3160" stroke-width="1.9" fill="none"/>
<path d="M70.50 639.46C75.17 637.01 89.20 630.29 98.55 624.74C107.90 619.18 117.25 612.05 126.60 606.14C135.95 600.23 145.30 595.50 154.65 589.28C164.00 583.06 178.02 572.23 182.70 568.82" stroke="#66a9dd" stroke-width="1.9" fill="none"/>
<rect x="67.05" y="637.17" width="6.90" height="6.90" fill="#a83347" stroke="#111" stroke-width="1.1"/>
<rect x="95.10" y="635.43" width="6.90" height="6.90" fill="#a83347" stroke="#111" stroke-width="1.1"/>
<rect x="123.15" y="631.44" width="6.90" height="6.90" fill="#a83347" stroke="#111" stroke-width="1.1"/>
<path d="M154.65 624.43V633.73M150.95 624.43H158.35M150.95 633.73H158.35" stroke="#111" stroke-width="1.1" fill="none"/>
<rect x="151.20" y="625.63" width="6.90" height="6.90" fill="#a83347" stroke="#111" stroke-width="1.1"/>
<path d="M182.70 618.92V631.32M179.00 618.92H186.40M179.00 631.32H186.40" stroke="#111" stroke-width="1.1" fill="none"/>
<rect x="179.25" y="621.67" width="6.90" height="6.90" fill="#a83347" stroke="#111" stroke-width="1.1"/>
<path d="M70.50 636.11L73.85 639.46L70.50 642.81L67.15 639.46Z" fill="#7dbbea" stroke="#111" stroke-width="1.1"/>
<path d="M98.55 618.92V630.55M94.85 618.92H102.25M94.85 630.55H102.25" stroke="#111" stroke-width="1.1" fill="none"/>
<path d="M98.55 621.39L101.90 624.74L98.55 628.09L95.20 624.74Z" fill="#7dbbea" stroke="#111" stroke-width="1.1"/>
<path d="M126.60 598.39V613.89M122.90 598.39H130.30M122.90 613.89H130.30" stroke="#111" stroke-width="1.1" fill="none"/>
<path d="M126.60 602.79L129.95 606.14L126.60 609.49L123.25 606.14Z" fill="#7dbbea" stroke="#111" stroke-width="1.1"/>
<path d="M154.65 580.37V598.19M150.95 580.37H158.35M150.95 598.19H158.35" stroke="#111" stroke-width="1.1" fill="none"/>
<path d="M154.65 585.93L158.00 589.28L154.65 592.63L151.30 589.28Z" fill="#7dbbea" stroke="#111" stroke-width="1.1"/>
<path d="M182.70 557.97V579.67M179.00 557.97H186.40M179.00 579.67H186.40" stroke="#111" stroke-width="1.1" fill="none"/>
<path d="M182.70 565.47L186.05 568.82L182.70 572.17L179.35 568.82Z" fill="#7dbbea" stroke="#111" stroke-width="1.1"/>
<path d="M70.50 636.25L74.28 642.91L66.72 642.91Z" fill="#7b4b7d" stroke="#111" stroke-width="1.1" stroke-linejoin="miter"/>
<path d="M98.55 624.62L102.33 631.28L94.77 631.28Z" fill="#7b4b7d" stroke="#111" stroke-width="1.1" stroke-linejoin="miter"/>
<path d="M126.60 613.12L130.38 619.78L122.82 619.78Z" fill="#7b4b7d" stroke="#111" stroke-width="1.1" stroke-linejoin="miter"/>
<path d="M154.65 597.38V609.00M150.95 597.38H158.35M150.95 609.00H158.35" stroke="#111" stroke-width="1.1" fill="none"/>
<path d="M154.65 599.59L158.43 606.25L150.87 606.25Z" fill="#7b4b7d" stroke="#111" stroke-width="1.1" stroke-linejoin="miter"/>
<path d="M182.70 587.54V596.84M179.00 587.54H186.40M179.00 596.84H186.40" stroke="#111" stroke-width="1.1" fill="none"/>
<path d="M182.70 588.59L186.48 595.25L178.92 595.25Z" fill="#7b4b7d" stroke="#111" stroke-width="1.1" stroke-linejoin="miter"/>
<path d="M125.50 625.70L127.70 628.50M127.70 625.70L125.50 628.50M126.60 625.60V628.60" stroke="#555" stroke-width="0.8" fill="none"/>
<path d="M153.55 616.30L155.75 619.10M155.75 616.30L153.55 619.10M154.65 616.20V619.20" stroke="#555" stroke-width="0.8" fill="none"/>
<path d="M181.60 610.90L183.80 613.70M183.80 610.90L181.60 613.70M182.70 610.80V613.80" stroke="#555" stroke-width="0.8" fill="none"/>
<path d="M181.60 550.90L183.80 553.70M183.80 550.90L181.60 553.70M182.70 550.80V553.80" stroke="#555" stroke-width="0.8" fill="none"/>
<line x1="77.5" y1="538.8" x2="104.5" y2="538.8" stroke="#a0283e" stroke-width="1.8"/>
<rect x="88.54" y="536.04" width="5.52" height="5.52" fill="#a83347" stroke="#111" stroke-width="1.1"/>
<text x="108.8" y="541.6999999999999" font-size="8.7" text-anchor="start" fill="#1a1a1a" textLength="12.9" lengthAdjust="spacingAndGlyphs" >WT</text>
<line x1="77.5" y1="553.3" x2="104.5" y2="553.3" stroke="#66a9dd" stroke-width="1.8"/>
<path d="M91.30 550.62L93.98 553.30L91.30 555.98L88.62 553.30Z" fill="#7dbbea" stroke="#111" stroke-width="1.1"/>
<text x="108.8" y="556.1999999999999" font-size="8.7" text-anchor="start" fill="#1a1a1a" textLength="31.2" lengthAdjust="spacingAndGlyphs" >D1498A</text>
<line x1="77.5" y1="567.5" x2="104.5" y2="567.5" stroke="#5b3160" stroke-width="1.8"/>
<path d="M91.30 564.62L94.32 569.95L88.28 569.95Z" fill="#7b4b7d" stroke="#111" stroke-width="1.1" stroke-linejoin="miter"/>
<text x="108.8" y="570.4" font-size="8.7" text-anchor="start" fill="#1a1a1a" textLength="32.6" lengthAdjust="spacingAndGlyphs" >R1597W</text>
<path d="M70.5 697V824.5H193.3" stroke="#111" stroke-width="1.3" fill="none"/>
<line x1="70.5" y1="824.5" x2="70.5" y2="828.1" stroke="#111" stroke-width="1.2"/>
<text x="70.5" y="840.5" font-size="9.1" text-anchor="middle" fill="#1a1a1a" >0</text>
<line x1="100.0" y1="824.5" x2="100.0" y2="828.1" stroke="#111" stroke-width="1.2"/>
<text x="100.0" y="840.5" font-size="9.1" text-anchor="middle" fill="#1a1a1a" >1</text>
<line x1="129.5" y1="824.5" x2="129.5" y2="828.1" stroke="#111" stroke-width="1.2"/>
<text x="129.5" y="840.5" font-size="9.1" text-anchor="middle" fill="#1a1a1a" >2</text>
<line x1="159.0" y1="824.5" x2="159.0" y2="828.1" stroke="#111" stroke-width="1.2"/>
<text x="159.0" y="840.5" font-size="9.1" text-anchor="middle" fill="#1a1a1a" >3</text>
<line x1="188.5" y1="824.5" x2="188.5" y2="828.1" stroke="#111" stroke-width="1.2"/>
<text x="188.5" y="840.5" font-size="9.1" text-anchor="middle" fill="#1a1a1a" >4</text>
<line x1="66.9" y1="824.5" x2="70.5" y2="824.5" stroke="#111" stroke-width="1.2"/>
<text x="62.7" y="827.6" font-size="9.1" text-anchor="end" fill="#1a1a1a" >0</text>
<line x1="66.9" y1="783.0" x2="70.5" y2="783.0" stroke="#111" stroke-width="1.2"/>
<text x="62.7" y="786.1" font-size="9.1" text-anchor="end" fill="#1a1a1a" >2000</text>
<line x1="66.9" y1="741.5" x2="70.5" y2="741.5" stroke="#111" stroke-width="1.2"/>
<text x="62.7" y="744.6" font-size="9.1" text-anchor="end" fill="#1a1a1a" >4000</text>
<line x1="66.9" y1="700.0" x2="70.5" y2="700.0" stroke="#111" stroke-width="1.2"/>
<text x="62.7" y="703.1" font-size="9.1" text-anchor="end" fill="#1a1a1a" >6000</text>
<text transform="translate(32.6 764.5) rotate(-90)" font-size="11.6" text-anchor="middle" fill="#1a1a1a" textLength="111" lengthAdjust="spacingAndGlyphs">Fluorescence intensity</text>
<text x="132.3" y="855.7" font-size="11.2" text-anchor="middle" fill="#1a1a1a" textLength="52.8" lengthAdjust="spacingAndGlyphs" >Time (min)</text>
<text x="83" y="706" font-size="9" text-anchor="start" fill="#1a1a1a" >4 µg/mL</text>
<path d="M70.50 824.09C75.42 823.15 90.17 821.10 100.00 818.48C109.83 815.87 119.67 811.86 129.50 808.40C139.33 804.94 149.17 800.38 159.00 797.73C168.83 795.08 183.58 793.38 188.50 792.50" stroke="#a0283e" stroke-width="1.9" fill="none"/>
<path d="M70.50 823.67C75.42 822.81 90.17 822.10 100.00 818.48C109.83 814.87 119.67 806.60 129.50 801.99C139.33 797.37 149.17 795.83 159.00 790.78C168.83 785.73 183.58 774.87 188.50 771.69" stroke="#5b3160" stroke-width="1.9" fill="none"/>
<path d="M70.50 823.46C75.42 821.95 90.17 819.17 100.00 814.39C109.83 809.62 119.67 803.52 129.50 794.83C139.33 786.14 149.17 773.05 159.00 762.25C168.83 751.45 183.58 735.38 188.50 730.00" stroke="#66a9dd" stroke-width="1.9" fill="none"/>
<rect x="67.05" y="820.63" width="6.90" height="6.90" fill="#a83347" stroke="#111" stroke-width="1.1"/>
<rect x="96.55" y="815.03" width="6.90" height="6.90" fill="#a83347" stroke="#111" stroke-width="1.1"/>
<rect x="126.05" y="804.95" width="6.90" height="6.90" fill="#a83347" stroke="#111" stroke-width="1.1"/>
<path d="M159.00 791.51V803.96M155.30 791.51H162.70M155.30 803.96H162.70" stroke="#111" stroke-width="1.1" fill="none"/>
<rect x="155.55" y="794.28" width="6.90" height="6.90" fill="#a83347" stroke="#111" stroke-width="1.1"/>
<path d="M188.50 787.11V797.90M184.80 787.11H192.20M184.80 797.90H192.20" stroke="#111" stroke-width="1.1" fill="none"/>
<rect x="185.05" y="789.05" width="6.90" height="6.90" fill="#a83347" stroke="#111" stroke-width="1.1"/>
<path d="M70.50 820.11L73.85 823.46L70.50 826.81L67.15 823.46Z" fill="#7dbbea" stroke="#111" stroke-width="1.1"/>
<path d="M100.00 811.04L103.35 814.39L100.00 817.74L96.65 814.39Z" fill="#7dbbea" stroke="#111" stroke-width="1.1"/>
<path d="M129.50 788.60V801.05M125.80 788.60H133.20M125.80 801.05H133.20" stroke="#111" stroke-width="1.1" fill="none"/>
<path d="M129.50 791.48L132.85 794.83L129.50 798.18L126.15 794.83Z" fill="#7dbbea" stroke="#111" stroke-width="1.1"/>
<path d="M159.00 756.02V768.48M155.30 756.02H162.70M155.30 768.48H162.70" stroke="#111" stroke-width="1.1" fill="none"/>
<path d="M159.00 758.90L162.35 762.25L159.00 765.60L155.65 762.25Z" fill="#7dbbea" stroke="#111" stroke-width="1.1"/>
<path d="M188.50 719.63V740.38M184.80 719.63H192.20M184.80 740.38H192.20" stroke="#111" stroke-width="1.1" fill="none"/>
<path d="M188.50 726.65L191.85 730.00L188.50 733.35L185.15 730.00Z" fill="#7dbbea" stroke="#111" stroke-width="1.1"/>
<path d="M70.50 820.07L74.28 826.73L66.72 826.73Z" fill="#7b4b7d" stroke="#111" stroke-width="1.1" stroke-linejoin="miter"/>
<path d="M100.00 814.88L103.78 821.54L96.22 821.54Z" fill="#7b4b7d" stroke="#111" stroke-width="1.1" stroke-linejoin="miter"/>
<path d="M129.50 798.39L133.28 805.05L125.72 805.05Z" fill="#7b4b7d" stroke="#111" stroke-width="1.1" stroke-linejoin="miter"/>
<path d="M159.00 784.14V797.42M155.30 784.14H162.70M155.30 797.42H162.70" stroke="#111" stroke-width="1.1" fill="none"/>
<path d="M159.00 787.18L162.78 793.84L155.22 793.84Z" fill="#7b4b7d" stroke="#111" stroke-width="1.1" stroke-linejoin="miter"/>
<path d="M188.50 766.50V776.88M184.80 766.50H192.20M184.80 776.88H192.20" stroke="#111" stroke-width="1.1" fill="none"/>
<path d="M188.50 768.09L192.28 774.75L184.72 774.75Z" fill="#7b4b7d" stroke="#111" stroke-width="1.1" stroke-linejoin="miter"/>
<path d="M157.90 747.30L160.10 750.10M160.10 747.30L157.90 750.10M159.00 747.20V750.20" stroke="#555" stroke-width="0.8" fill="none"/>
<path d="M187.40 708.80L189.60 711.60M189.60 708.80L187.40 711.60M188.50 708.70V711.70" stroke="#555" stroke-width="0.8" fill="none"/>
<path d="M187.40 755.10L189.60 757.90M189.60 755.10L187.40 757.90M188.50 755.00V758.00" stroke="#555" stroke-width="0.8" fill="none"/>
<line x1="76.3" y1="718.3" x2="103.3" y2="718.3" stroke="#a0283e" stroke-width="1.8"/>
<rect x="87.24" y="715.54" width="5.52" height="5.52" fill="#a83347" stroke="#111" stroke-width="1.1"/>
<text x="107.5" y="721.1999999999999" font-size="8.7" text-anchor="start" fill="#1a1a1a" textLength="12.9" lengthAdjust="spacingAndGlyphs" >WT</text>
<line x1="76.3" y1="732.5" x2="103.3" y2="732.5" stroke="#66a9dd" stroke-width="1.8"/>
<path d="M90.00 729.82L92.68 732.50L90.00 735.18L87.32 732.50Z" fill="#7dbbea" stroke="#111" stroke-width="1.1"/>
<text x="107.5" y="735.4" font-size="8.7" text-anchor="start" fill="#1a1a1a" textLength="31.2" lengthAdjust="spacingAndGlyphs" >D1498A</text>
<line x1="76.3" y1="746.8" x2="103.3" y2="746.8" stroke="#5b3160" stroke-width="1.8"/>
<path d="M90.00 743.92L93.02 749.25L86.98 749.25Z" fill="#7b4b7d" stroke="#111" stroke-width="1.1" stroke-linejoin="miter"/>
<text x="107.5" y="749.6999999999999" font-size="8.7" text-anchor="start" fill="#1a1a1a" textLength="32.6" lengthAdjust="spacingAndGlyphs" >R1597W</text>
<text x="257.2" y="511" font-size="14.5" text-anchor="start" fill="#111" textLength="7.4" lengthAdjust="spacingAndGlyphs" >F</text>
<text x="411" y="528" font-size="9.2" text-anchor="middle" fill="#a8324a" >collagen substrate</text>
<rect x="312.2" y="533.8" width="95.6" height="76.9" fill="#2a2a21"/>
<svg x="312.2" y="533.8" width="95.6" height="76.9" overflow="hidden">
<g filter="url(#hz)">
<ellipse cx="29.2" cy="11.6" rx="7.4" ry="1.8" fill="#5a9a50" fill-opacity="0.14"/>
<ellipse cx="51.6" cy="28.1" rx="3.1" ry="2.1" fill="#5a9a50" fill-opacity="0.18"/>
<ellipse cx="-1.0" cy="33.3" rx="3.2" ry="1.9" fill="#5a9a50" fill-opacity="0.14"/>
<ellipse cx="39.8" cy="63.6" rx="3.6" ry="1.9" fill="#5a9a50" fill-opacity="0.16"/>
<ellipse cx="61.3" cy="72.9" rx="6.9" ry="2.0" fill="#5a9a50" fill-opacity="0.17"/>
<ellipse cx="98.1" cy="3.6" rx="8.9" ry="2.0" fill="#5a9a50" fill-opacity="0.16"/>
<ellipse cx="10.2" cy="9.1" rx="4.9" ry="2.3" fill="#5a9a50" fill-opacity="0.21"/>
<ellipse cx="14.1" cy="44.7" rx="7.3" ry="2.0" fill="#5a9a50" fill-opacity="0.17"/>
<ellipse cx="52.8" cy="4.8" rx="3.1" ry="1.9" fill="#5a9a50" fill-opacity="0.15"/>
<ellipse cx="66.9" cy="32.9" rx="5.0" ry="2.2" fill="#5a9a50" fill-opacity="0.19"/>
<ellipse cx="42.9" cy="23.1" rx="8.4" ry="2.2" fill="#5a9a50" fill-opacity="0.20"/>
<ellipse cx="20.8" cy="44.2" rx="6.5" ry="2.3" fill="#5a9a50" fill-opacity="0.22"/>
<ellipse cx="72.0" cy="22.1" rx="9.8" ry="1.9" fill="#5a9a50" fill-opacity="0.15"/>
<ellipse cx="39.2" cy="58.2" rx="3.8" ry="2.1" fill="#5a9a50" fill-opacity="0.18"/>
<ellipse cx="-0.9" cy="51.4" rx="8.2" ry="2.1" fill="#5a9a50" fill-opacity="0.19"/>
<ellipse cx="87.5" cy="24.1" rx="7.7" ry="2.2" fill="#5a9a50" fill-opacity="0.19"/>
<ellipse cx="56.2" cy="35.1" rx="8.7" ry="2.4" fill="#5a9a50" fill-opacity="0.22"/>
<ellipse cx="45.1" cy="51.1" rx="3.1" ry="2.2" fill="#5a9a50" fill-opacity="0.20"/>
<ellipse cx="63.3" cy="76.4" rx="8.6" ry="2.0" fill="#5a9a50" fill-opacity="0.16"/>
<ellipse cx="35.7" cy="51.4" rx="2.9" ry="2.1" fill="#5a9a50" fill-opacity="0.18"/>
<ellipse cx="12.7" cy="9.0" rx="3.1" ry="2.3" fill="#5a9a50" fill-opacity="0.21"/>
<ellipse cx="8.7" cy="19.0" rx="5.5" ry="2.3" fill="#5a9a50" fill-opacity="0.22"/>
</g>
<g filter="url(#gb)" fill="none" stroke-linecap="round">
<path d="M35.2 12.0h0.5M37.2 11.2h0.2M23.9 10.6h0.2M21.2 11.9h0.2M27.9 11.0h0.8M52.8 29.7h0.8M53.7 27.3h0.8M50.9 28.8h0.2M-1.5 34.5h0.8M-3.5 34.3h0.5M-0.2 34.0h0.8M39.7 64.4h0.2M95.0 2.3h0.5M14.5 7.6h0.8M12.7 9.3h0.5M13.6 9.6h0.8M19.4 44.3h0.5M12.8 44.7h0.8M54.8 5.9h0.5M49.7 5.7h0.5M50.3 23.4h0.8M45.5 22.5h0.5M14.8 43.8h0.2M14.4 43.7h0.2M22.3 44.3h0.2M66.9 22.6h0.5M65.0 22.0h0.2M72.3 22.2h0.5M82.2 21.1h0.2M36.3 58.4h0.5M42.3 57.8h0.5M-9.2 50.6h0.5M-4.1 54.2h0.5M-6.0 51.8h0.5M-0.8 52.3h0.8M4.2 53.1h0.8M-9.2 52.5h0.5M85.6 22.7h0.8M89.5 27.0h0.8M51.4 35.8h0.5M48.0 35.4h0.5M59.2 34.5h0.5M65.8 34.2h0.5M48.3 50.2h0.2M42.1 51.3h0.8M43.5 50.9h0.5M58.2 77.4h0.2M58.6 75.6h0.5M70.1 75.8h0.2M37.9 50.8h0.5M12.6 10.2h0.5M7.8 18.3h0.8M12.0 38.7h0.1M8.9 69.0h0.4M92.6 37.7h0.4M92.9 19.1h0.1M14.5 74.7h0.4M8.1 59.7h0.1M22.2 70.7h0.4M92.0 48.2h0.4M66.8 8.6h0.1M37.1 17.2h0.1M51.4 76.6h0.4M61.6 68.0h0.1M52.3 2.3h0.4M7.8 17.5h0.4M21.7 2.6h0.4M34.6 30.5h0.4M70.7 38.8h0.1M29.8 63.1h0.1M25.3 68.4h0.4M58.3 68.9h0.1M90.7 11.3h0.1M2.3 45.8h0.1M17.6 34.6h0.4M18.2 50.2h0.4M3.0 51.1h0.4M94.2 34.0h0.1M53.6 58.4h0.4M78.6 33.3h0.4M18.7 41.6h0.4M34.8 69.0h0.4M23.7 48.1h0.4M18.6 4.8h0.4M26.0 73.6h0.4M2.3 18.0h0.4M91.2 29.7h0.4M77.9 10.2h0.1M58.1 25.2h0.4M74.9 45.8h0.4M72.0 19.0h0.1M46.0 41.9h0.4M84.5 76.0h0.1M16.6 10.2h0.1M71.5 65.1h0.1M74.5 22.6h0.4M35.7 56.8h0.1M17.8 18.1h0.1M62.1 7.7h0.1M87.4 3.1h0.1M57.7 59.6h0.1M10.1 45.8h0.1M3.6 26.1h0.4M78.3 31.5h0.4M7.5 2.4h0.4M6.0 7.8h0.1M61.1 7.0h0.4M39.2 21.8h0.1M29.9 43.6h0.4M1.4 42.4h0.4M8.5 47.8h0.1M13.9 21.8h0.1M28.8 64.4h0.4M30.1 46.7h0.1M61.2 65.9h0.1M79.3 14.1h0.4M89.7 12.0h0.1M84.5 64.8h0.4M11.3 46.1h0.4M62.0 23.7h0.4M63.0 34.4h0.1M0.3 75.8h0.4M73.0 60.0h0.1M77.5 30.8h0.4M41.2 7.1h0.1M74.3 39.3h0.4M62.4 60.3h0.1M12.6 68.1h0.1M65.6 55.5h0.4M58.4 19.4h0.4M86.5 35.1h0.4M19.9 20.2h0.4M35.6 15.3h0.4M65.0 68.9h0.4M11.0 40.8h0.4M92.4 34.8h0.1M25.3 76.2h0.4M31.6 6.3h0.1M28.3 39.7h0.4M70.1 57.5h0.4M58.9 33.2h0.1M12.6 17.5h0.1M5.2 43.6h0.4M51.1 31.8h0.1M19.5 48.0h0.1M1.3 61.6h0.4M38.4 20.3h0.4M56.9 44.5h0.4M23.8 69.5h0.1M38.8 18.3h0.1M39.5 39.9h0.4M77.8 13.4h0.4" stroke="#568a4e" stroke-opacity="0.4" stroke-width="1.1"/>
<path d="M22.3 10.3h0.5M37.9 63.9h0.5M41.8 63.5h0.8M66.5 70.5h0.2M104.1 4.0h0.2M103.8 4.8h0.2M107.1 3.3h0.2M90.2 2.6h0.8M104.8 3.8h0.8M9.1 9.7h0.2M11.9 6.5h0.2M9.4 42.9h0.8M14.6 44.5h0.2M50.6 3.1h0.5M54.1 5.1h0.5M67.5 33.0h0.8M69.0 31.6h0.2M71.5 33.5h0.5M62.7 32.4h0.2M46.1 22.4h0.2M50.1 23.9h0.8M41.6 24.4h0.5M41.4 22.8h0.5M43.9 23.4h0.2M20.7 44.8h0.5M74.8 21.4h0.8M82.8 22.3h0.2M63.5 22.6h0.5M93.2 24.5h0.8M79.2 23.3h0.5M56.1 34.3h0.5M47.7 33.6h0.8M41.7 50.8h0.8M72.0 75.6h0.5M59.5 77.0h0.5M72.9 75.5h0.5M35.3 53.9h0.5M10.7 11.2h0.8M11.7 8.3h0.8M14.4 8.4h0.5M9.4 18.1h0.2M3.6 18.8h0.5M41.3 24.0h0.1M12.2 32.7h0.4M5.3 14.9h0.4M70.0 76.7h0.4M26.7 27.0h0.1M3.3 4.8h0.4M71.4 53.0h0.4M0.4 58.1h0.1M76.7 56.8h0.1M19.9 32.4h0.4M31.2 30.5h0.1M9.8 36.5h0.4M4.8 46.2h0.1M88.9 28.6h0.4M3.7 56.3h0.1M1.7 59.0h0.1M37.4 31.1h0.4M86.2 32.6h0.4M55.2 28.0h0.1M10.4 37.7h0.1M86.4 47.7h0.1M23.6 55.7h0.1M3.9 10.0h0.4M95.2 56.3h0.1M24.1 41.2h0.4M9.2 49.1h0.4M1.2 42.4h0.1" stroke="#60a058" stroke-opacity="0.55" stroke-width="1.2"/>
<path d="M50.3 29.7h0.8M39.6 64.5h0.5M54.0 71.6h0.8M59.2 72.0h0.5M68.5 70.6h0.8M61.8 72.6h0.5M63.3 71.4h0.2M65.9 71.6h0.8M101.9 4.7h0.5M103.7 1.9h0.5M15.5 8.5h0.2M11.7 43.3h0.5M19.4 45.1h0.2M15.8 44.7h0.2M72.1 30.5h0.2M69.0 33.3h0.5M51.9 23.0h0.2M18.5 45.0h0.5M43.2 57.1h0.8M42.0 59.8h0.5M1.5 53.8h0.2M2.0 52.8h0.8M94.2 22.9h0.2M94.5 22.8h0.8M93.2 24.8h0.8M90.6 22.2h0.2M51.1 35.1h0.5M64.2 35.0h0.2M55.5 36.3h0.2M45.2 51.6h0.8M53.8 77.2h0.5M56.1 77.9h0.5M37.6 51.2h0.5M38.4 51.5h0.8M14.5 10.2h0.5M7.6 19.3h0.5M5.8 19.1h0.5" stroke="#6ab462" stroke-opacity="0.7" stroke-width="1.3"/>
<path d="M5.0 8.2h0.8M37.6 23.7h0.5M40.7 22.1h0.2M25.4 46.5h0.8M25.4 44.1h0.8M22.7 43.1h0.2M22.5 45.8h0.2M36.1 60.0h0.2M-1.8 51.2h0.8M80.3 25.6h0.5M62.0 34.9h0.8M64.0 36.2h0.5M48.5 35.3h0.5M10.4 20.2h0.8M5.2 19.6h0.5M12.4 19.1h0.5M59.8 76.4h0.3M69.2 36.8h0.3M51.5 28.8h0.3M41.7 70.2h0.3M7.7 50.4h0.3M16.8 76.6h0.3M25.0 49.5h0.3M11.8 68.5h0.3" stroke="#7ac870" stroke-opacity="0.85" stroke-width="1.4"/>
</g>
</svg>
<rect x="391.6" y="535.3" width="13.4" height="3.0" fill="#fff"/>
<rect x="415.2" y="533.8" width="95.6" height="76.9" fill="#2a2a21"/>
<svg x="415.2" y="533.8" width="95.6" height="76.9" overflow="hidden">
<g filter="url(#hz)">
<ellipse cx="92.7" cy="72.5" rx="4.6" ry="1.8" fill="#5a9a50" fill-opacity="0.14"/>
<ellipse cx="62.1" cy="52.2" rx="7.6" ry="2.4" fill="#5a9a50" fill-opacity="0.22"/>
<ellipse cx="97.6" cy="22.7" rx="9.4" ry="2.3" fill="#5a9a50" fill-opacity="0.22"/>
<ellipse cx="4.0" cy="39.0" rx="3.9" ry="2.3" fill="#5a9a50" fill-opacity="0.22"/>
<ellipse cx="83.9" cy="15.6" rx="3.8" ry="2.3" fill="#5a9a50" fill-opacity="0.22"/>
<ellipse cx="15.3" cy="29.9" rx="7.0" ry="2.0" fill="#5a9a50" fill-opacity="0.17"/>
<ellipse cx="85.0" cy="70.9" rx="9.8" ry="2.3" fill="#5a9a50" fill-opacity="0.21"/>
<ellipse cx="51.6" cy="36.3" rx="6.5" ry="1.8" fill="#5a9a50" fill-opacity="0.13"/>
<ellipse cx="-2.2" cy="73.5" rx="4.4" ry="2.3" fill="#5a9a50" fill-opacity="0.22"/>
<ellipse cx="78.3" cy="30.1" rx="6.9" ry="2.1" fill="#5a9a50" fill-opacity="0.19"/>
<ellipse cx="13.1" cy="2.5" rx="3.5" ry="2.2" fill="#5a9a50" fill-opacity="0.19"/>
<ellipse cx="12.1" cy="75.2" rx="7.7" ry="1.8" fill="#5a9a50" fill-opacity="0.14"/>
<ellipse cx="9.6" cy="49.5" rx="3.0" ry="1.8" fill="#5a9a50" fill-opacity="0.14"/>
<ellipse cx="-0.1" cy="65.9" rx="8.2" ry="1.9" fill="#5a9a50" fill-opacity="0.15"/>
<ellipse cx="95.8" cy="41.1" rx="7.5" ry="2.3" fill="#5a9a50" fill-opacity="0.22"/>
<ellipse cx="74.8" cy="54.7" rx="5.5" ry="1.9" fill="#5a9a50" fill-opacity="0.16"/>
<ellipse cx="16.5" cy="2.6" rx="9.5" ry="2.3" fill="#5a9a50" fill-opacity="0.22"/>
<ellipse cx="74.6" cy="6.7" rx="8.1" ry="2.2" fill="#5a9a50" fill-opacity="0.19"/>
<ellipse cx="45.4" cy="10.2" rx="8.4" ry="2.2" fill="#5a9a50" fill-opacity="0.20"/>
<ellipse cx="26.1" cy="25.9" rx="4.6" ry="2.0" fill="#5a9a50" fill-opacity="0.17"/>
<ellipse cx="93.2" cy="3.7" rx="8.2" ry="2.3" fill="#5a9a50" fill-opacity="0.22"/>
<ellipse cx="76.2" cy="46.3" rx="6.1" ry="2.0" fill="#5a9a50" fill-opacity="0.16"/>
<ellipse cx="73.7" cy="60.7" rx="2.9" ry="2.1" fill="#5a9a50" fill-opacity="0.18"/>
<ellipse cx="5.4" cy="36.1" rx="3.0" ry="2.1" fill="#5a9a50" fill-opacity="0.19"/>
<ellipse cx="70.4" cy="63.7" rx="6.8" ry="2.0" fill="#5a9a50" fill-opacity="0.16"/>
<ellipse cx="41.0" cy="40.3" rx="4.8" ry="2.3" fill="#5a9a50" fill-opacity="0.21"/>
<ellipse cx="0.7" cy="26.7" rx="3.4" ry="2.2" fill="#5a9a50" fill-opacity="0.20"/>
<ellipse cx="82.2" cy="74.4" rx="7.0" ry="2.4" fill="#5a9a50" fill-opacity="0.23"/>
<ellipse cx="49.4" cy="44.4" rx="3.8" ry="2.3" fill="#5a9a50" fill-opacity="0.21"/>
<ellipse cx="94.1" cy="17.8" rx="3.9" ry="2.4" fill="#5a9a50" fill-opacity="0.22"/>
<ellipse cx="76.0" cy="37.7" rx="9.8" ry="2.1" fill="#5a9a50" fill-opacity="0.19"/>
<ellipse cx="6.0" cy="25.1" rx="3.4" ry="2.4" fill="#5a9a50" fill-opacity="0.22"/>
</g>
<g filter="url(#gb)" fill="none" stroke-linecap="round">
<path d="M96.7 73.2h0.8M92.7 72.6h0.8M92.9 22.5h0.2M93.1 23.7h0.5M3.1 36.0h0.8M3.8 39.9h0.5M83.0 14.6h0.5M14.8 29.5h0.5M77.4 70.5h0.8M87.3 69.0h0.5M81.6 69.9h0.5M52.4 36.2h0.5M-5.3 72.5h0.2M78.2 31.4h0.2M79.0 31.0h0.2M15.2 2.7h0.2M19.6 76.5h0.2M12.4 49.3h0.8M-5.2 65.4h0.5M3.8 67.0h0.8M100.5 40.2h0.8M79.3 54.7h0.5M72.2 53.3h0.5M12.0 4.7h0.8M13.2 2.3h0.8M12.4 3.9h0.5M15.6 3.4h0.5M67.3 6.1h0.8M80.3 7.5h0.2M40.2 9.3h0.5M53.6 11.5h0.2M48.1 10.6h0.2M40.8 10.8h0.5M30.1 25.5h0.5M30.8 26.8h0.2M75.5 46.9h0.5M79.1 48.2h0.2M74.6 61.0h0.8M69.6 64.5h0.8M-2.0 25.1h0.2M84.7 75.7h0.2M45.2 44.5h0.5M50.7 44.8h0.8M53.3 46.5h0.8M49.7 43.3h0.2M91.9 16.2h0.8M72.2 37.4h0.2M81.9 39.9h0.2M70.0 39.4h0.5M79.7 37.2h0.2M8.8 24.0h0.8M53.1 29.6h0.4M36.4 23.1h0.1M41.6 29.0h0.4M88.0 59.5h0.4M49.5 39.8h0.4M44.4 3.1h0.4M90.6 52.0h0.1M39.2 38.5h0.1M84.1 74.2h0.4M73.4 69.1h0.1M48.3 14.5h0.1M33.8 76.4h0.1M66.1 0.8h0.1M87.7 30.6h0.1M63.9 15.1h0.4M83.3 68.9h0.1M54.9 31.6h0.1M49.6 39.2h0.1M77.1 4.8h0.4M13.8 18.3h0.1M33.4 34.6h0.1M42.0 47.7h0.1M15.2 45.1h0.1M85.9 62.7h0.4M64.7 51.9h0.4M29.6 67.3h0.1M8.4 13.1h0.1M92.9 22.4h0.1M32.0 67.0h0.1M37.0 35.9h0.4M3.3 51.1h0.1M23.1 10.0h0.1M15.2 27.1h0.4M60.2 44.7h0.4M48.3 17.5h0.1M90.1 76.7h0.4M56.2 28.3h0.1M12.0 57.7h0.1M2.7 55.2h0.1M37.3 6.6h0.1M30.7 51.0h0.4M77.0 58.3h0.4M89.6 13.6h0.4M85.7 1.9h0.4M23.7 65.1h0.1M68.1 3.1h0.1M41.2 58.2h0.1M54.5 55.1h0.4M79.8 59.7h0.1M83.7 45.0h0.1M65.1 2.9h0.4M71.7 6.6h0.4M95.4 47.3h0.1M33.4 73.0h0.4M48.6 52.0h0.1M52.0 19.2h0.4M33.2 7.1h0.1M13.1 54.4h0.1M67.5 0.5h0.1M89.5 27.0h0.1M56.2 18.5h0.1M52.4 58.5h0.1M10.9 22.3h0.1M4.1 68.9h0.1M67.1 34.5h0.4M42.5 43.8h0.1M10.4 37.6h0.1M74.9 24.7h0.1M62.4 6.0h0.1M74.0 64.6h0.1M9.8 55.3h0.4M36.3 49.8h0.1M35.2 42.4h0.4M22.9 3.2h0.4M86.5 72.7h0.4M69.9 76.6h0.1M13.6 17.5h0.4M8.6 3.1h0.1M20.9 28.6h0.4M13.7 5.5h0.4M85.1 4.8h0.1M86.4 12.6h0.4M76.9 51.9h0.4M8.1 24.9h0.1M93.1 74.0h0.1M69.1 25.5h0.4M91.1 37.0h0.4M82.7 40.8h0.1M21.3 56.9h0.1M63.1 28.6h0.4M34.4 18.5h0.4M21.2 64.4h0.1M50.7 19.3h0.4M21.7 44.0h0.1M82.5 42.3h0.1M59.9 73.9h0.4M79.4 30.1h0.1M53.8 59.6h0.1M38.7 3.6h0.1M43.9 9.3h0.1M59.4 67.1h0.4M16.1 57.3h0.1M78.9 9.4h0.4M69.0 3.3h0.1M34.0 25.2h0.1M88.5 51.9h0.1M10.9 1.6h0.4M17.7 42.6h0.4M79.9 45.2h0.4M90.7 1.1h0.1M46.6 37.2h0.1M7.1 47.7h0.4M80.6 74.4h0.4M37.6 67.1h0.1M34.5 40.6h0.1M56.3 3.4h0.4M69.5 25.5h0.4M30.1 25.8h0.1M60.3 55.9h0.4M26.1 38.5h0.1M94.9 2.6h0.1M83.4 59.5h0.1M48.7 48.8h0.4M32.0 54.2h0.4M56.1 11.1h0.4M29.1 27.2h0.4M86.0 21.2h0.1M72.5 48.2h0.1M20.9 30.7h0.4M82.6 49.8h0.1M92.1 46.2h0.4M68.7 0.4h0.1M61.2 71.0h0.4M83.0 2.1h0.4M59.9 25.7h0.4M24.6 35.6h0.4M53.9 75.9h0.4M15.0 1.4h0.1M34.2 27.8h0.1M62.8 46.3h0.4M77.8 36.7h0.4M62.3 42.3h0.4M34.5 40.7h0.4M0.9 36.6h0.4M14.4 48.4h0.1M89.6 48.0h0.1" stroke="#568a4e" stroke-opacity="0.4" stroke-width="1.1"/>
<path d="M96.7 71.2h0.5M90.0 71.2h0.8M64.6 52.6h0.5M56.5 51.3h0.5M62.3 53.1h0.8M96.2 21.4h0.8M7.5 38.2h0.2M4.2 36.8h0.8M85.8 14.4h0.5M13.0 28.5h0.5M52.5 37.1h0.2M54.5 36.3h0.8M44.5 37.0h0.5M54.5 35.4h0.5M-5.8 74.8h0.8M76.1 30.8h0.5M76.8 31.5h0.5M15.6 2.8h0.8M9.7 1.2h0.2M18.4 74.7h0.2M9.8 75.4h0.5M13.2 75.1h0.5M3.8 76.1h0.8M11.4 50.0h0.8M12.9 49.5h0.2M-0.5 65.4h0.2M7.1 66.1h0.5M-8.8 65.7h0.2M7.6 65.1h0.8M88.5 40.1h0.8M93.5 40.1h0.5M100.4 39.8h0.5M18.1 3.3h0.8M72.3 9.2h0.2M68.4 5.9h0.2M67.3 6.4h0.8M83.5 6.5h0.2M66.5 4.6h0.2M49.2 11.0h0.2M39.5 10.8h0.8M40.9 10.7h0.8M47.1 8.7h0.5M22.6 26.1h0.5M92.4 3.2h0.2M92.8 3.3h0.2M92.1 4.4h0.2M92.0 3.7h0.5M80.8 46.9h0.5M80.4 46.2h0.2M73.2 47.2h0.2M75.3 61.6h0.8M8.2 35.1h0.8M7.8 35.9h0.2M70.7 62.3h0.8M36.8 40.7h0.2M35.9 41.9h0.8M42.5 39.5h0.2M38.6 41.6h0.8M0.7 26.6h0.2M1.0 27.3h0.2M4.0 25.9h0.5M86.4 74.2h0.2M79.4 75.4h0.5M77.9 74.9h0.5M50.4 43.4h0.8M92.2 16.2h0.5M91.9 19.0h0.8M83.9 37.5h0.8M78.3 36.8h0.5M78.5 38.9h0.8M8.7 25.2h0.8M4.9 25.9h0.8M31.0 64.9h0.4M19.5 32.8h0.1M2.4 19.7h0.4M16.3 24.5h0.4M49.0 8.5h0.4M78.4 76.2h0.4M60.3 40.3h0.1M16.3 40.2h0.4M25.5 7.6h0.1M21.0 30.5h0.1M91.8 38.1h0.1M91.9 32.5h0.1M53.1 35.9h0.1M51.9 20.8h0.4M8.4 22.2h0.4M27.0 31.0h0.1M17.4 8.9h0.1M52.8 48.4h0.1M64.1 44.2h0.1M66.1 56.8h0.4M46.8 14.6h0.4M16.7 12.6h0.1M57.2 35.5h0.1M4.4 36.0h0.4M8.0 55.1h0.4M61.6 48.3h0.4M92.0 40.4h0.1M10.9 13.9h0.1M81.4 52.3h0.1M66.3 1.6h0.4M2.0 35.3h0.1M34.7 21.7h0.1M65.1 23.4h0.4M48.2 68.8h0.4M14.4 15.8h0.4M38.7 30.5h0.1M69.5 42.4h0.4M7.0 14.6h0.1M68.9 70.9h0.4M16.7 66.4h0.1M53.1 14.0h0.4" stroke="#60a058" stroke-opacity="0.55" stroke-width="1.2"/>
<path d="M62.5 53.0h0.5M59.2 51.0h0.2M56.5 52.0h0.2M101.7 21.9h0.8M101.8 23.7h0.5M89.2 21.1h0.8M96.7 21.9h0.2M4.2 40.2h0.8M81.2 17.0h0.2M87.4 14.5h0.2M87.9 18.4h0.2M9.5 29.8h0.8M10.5 28.8h0.2M13.0 31.2h0.5M18.5 28.7h0.5M7.5 27.0h0.5M81.9 70.3h0.8M87.9 70.1h0.5M85.6 70.1h0.2M94.8 72.1h0.5M91.3 72.0h0.2M92.3 71.4h0.8M92.3 72.5h0.2M-6.7 74.2h0.8M79.2 31.0h0.5M77.3 28.9h0.5M75.5 29.7h0.2M14.1 2.5h0.8M16.0 2.8h0.8M-9.1 65.6h0.2M96.8 39.7h0.8M103.0 41.0h0.2M77.3 54.3h0.5M75.8 54.5h0.2M73.3 54.1h0.5M9.0 4.5h0.5M12.7 4.0h0.2M9.9 2.9h0.5M24.0 2.7h0.2M74.3 5.9h0.5M81.1 5.9h0.2M53.9 10.7h0.5M53.6 10.2h0.5M24.9 24.0h0.2M25.8 26.6h0.2M87.4 3.3h0.2M98.7 3.7h0.5M95.6 4.3h0.5M75.3 43.7h0.2M75.9 62.0h0.2M71.8 59.5h0.8M4.8 36.1h0.2M3.3 35.5h0.5M63.4 63.2h0.5M63.9 63.1h0.5M74.7 64.3h0.8M74.3 65.7h0.5M37.2 40.3h0.2M43.2 42.0h0.2M87.4 73.9h0.5M82.6 75.4h0.2M74.9 73.8h0.5M49.5 46.3h0.5M72.8 39.0h0.8M70.9 36.6h0.5M6.7 22.3h0.5M6.8 24.2h0.8" stroke="#6ab462" stroke-opacity="0.7" stroke-width="1.3"/>
<path d="M63.5 53.1h0.2M67.7 50.9h0.8M57.7 53.1h0.2M60.2 54.2h0.5M93.4 23.6h0.2M102.7 22.9h0.5M101.8 21.4h0.8M102.3 21.9h0.8M90.5 23.7h0.5M1.6 39.2h0.2M81.5 14.4h0.8M93.8 71.9h0.2M88.6 72.9h0.8M-3.0 73.5h0.2M-0.4 74.7h0.5M0.8 74.5h0.2M78.4 29.9h0.8M88.5 43.9h0.8M101.1 41.9h0.2M103.4 41.5h0.8M90.3 42.1h0.2M11.5 4.0h0.2M16.1 1.2h0.2M15.7 2.8h0.5M22.2 2.8h0.8M89.1 4.6h0.5M86.2 4.3h0.2M86.3 1.3h0.5M89.4 4.5h0.2M1.4 26.5h0.2M87.0 72.3h0.2M86.4 75.8h0.2M88.6 73.3h0.2M91.5 18.3h0.5M97.5 17.4h0.2M94.5 18.9h0.2M83.8 36.1h0.5M70.5 69.4h0.3M83.3 65.8h0.3M74.5 40.6h0.3M33.5 54.6h0.3M42.2 66.1h0.3M20.4 70.2h0.3M86.1 29.9h0.3M20.3 60.7h0.3M2.5 50.8h0.3M1.5 62.0h0.3M87.3 51.8h0.3M33.5 17.5h0.3" stroke="#7ac870" stroke-opacity="0.85" stroke-width="1.4"/>
</g>
</svg>
<rect x="494.6" y="535.3" width="13.4" height="3.0" fill="#fff"/>
<rect x="312.2" y="617.8" width="95.6" height="76.0" fill="#2a2a21"/>
<svg x="312.2" y="617.8" width="95.6" height="76.0" overflow="hidden">
<g filter="url(#hz)">
<ellipse cx="34.7" cy="68.9" rx="5.4" ry="2.2" fill="#5a9a50" fill-opacity="0.20"/>
<ellipse cx="85.9" cy="2.3" rx="2.8" ry="2.2" fill="#5a9a50" fill-opacity="0.20"/>
<ellipse cx="20.5" cy="26.9" rx="5.0" ry="2.1" fill="#5a9a50" fill-opacity="0.17"/>
<ellipse cx="24.4" cy="66.8" rx="6.3" ry="2.4" fill="#5a9a50" fill-opacity="0.23"/>
<ellipse cx="78.5" cy="36.3" rx="9.4" ry="2.3" fill="#5a9a50" fill-opacity="0.21"/>
<ellipse cx="95.8" cy="10.4" rx="4.9" ry="1.9" fill="#5a9a50" fill-opacity="0.14"/>
<ellipse cx="-4.6" cy="66.3" rx="4.5" ry="2.0" fill="#5a9a50" fill-opacity="0.16"/>
<ellipse cx="59.4" cy="72.7" rx="4.2" ry="1.8" fill="#5a9a50" fill-opacity="0.14"/>
<ellipse cx="77.6" cy="64.7" rx="8.0" ry="1.8" fill="#5a9a50" fill-opacity="0.14"/>
<ellipse cx="76.7" cy="33.4" rx="5.8" ry="1.9" fill="#5a9a50" fill-opacity="0.15"/>
<ellipse cx="93.9" cy="52.1" rx="8.5" ry="1.9" fill="#5a9a50" fill-opacity="0.15"/>
<ellipse cx="91.4" cy="10.1" rx="4.9" ry="2.1" fill="#5a9a50" fill-opacity="0.18"/>
<ellipse cx="32.1" cy="57.1" rx="6.0" ry="2.0" fill="#5a9a50" fill-opacity="0.17"/>
<ellipse cx="38.7" cy="48.8" rx="7.5" ry="2.0" fill="#5a9a50" fill-opacity="0.17"/>
<ellipse cx="30.4" cy="68.0" rx="6.9" ry="1.9" fill="#5a9a50" fill-opacity="0.15"/>
<ellipse cx="61.2" cy="1.2" rx="3.7" ry="2.2" fill="#5a9a50" fill-opacity="0.19"/>
<ellipse cx="55.7" cy="53.1" rx="7.9" ry="1.8" fill="#5a9a50" fill-opacity="0.14"/>
<ellipse cx="89.4" cy="4.9" rx="3.5" ry="2.4" fill="#5a9a50" fill-opacity="0.23"/>
<ellipse cx="97.5" cy="39.9" rx="2.7" ry="1.9" fill="#5a9a50" fill-opacity="0.16"/>
<ellipse cx="52.1" cy="48.1" rx="6.6" ry="2.4" fill="#5a9a50" fill-opacity="0.23"/>
<ellipse cx="51.0" cy="63.8" rx="9.6" ry="1.8" fill="#5a9a50" fill-opacity="0.14"/>
<ellipse cx="97.5" cy="64.8" rx="9.7" ry="1.9" fill="#5a9a50" fill-opacity="0.16"/>
<ellipse cx="2.6" cy="53.5" rx="2.8" ry="2.0" fill="#5a9a50" fill-opacity="0.16"/>
<ellipse cx="97.0" cy="14.9" rx="3.0" ry="2.3" fill="#5a9a50" fill-opacity="0.21"/>
<ellipse cx="95.5" cy="20.3" rx="5.0" ry="1.8" fill="#5a9a50" fill-opacity="0.14"/>
<ellipse cx="42.9" cy="21.4" rx="5.1" ry="2.0" fill="#5a9a50" fill-opacity="0.17"/>
<ellipse cx="99.9" cy="56.6" rx="4.6" ry="2.1" fill="#5a9a50" fill-opacity="0.17"/>
<ellipse cx="52.0" cy="29.1" rx="3.8" ry="2.3" fill="#5a9a50" fill-opacity="0.21"/>
<ellipse cx="88.1" cy="61.1" rx="9.2" ry="2.2" fill="#5a9a50" fill-opacity="0.19"/>
<ellipse cx="20.2" cy="38.1" rx="9.8" ry="2.2" fill="#5a9a50" fill-opacity="0.20"/>
<ellipse cx="72.1" cy="75.3" rx="8.6" ry="2.2" fill="#5a9a50" fill-opacity="0.20"/>
<ellipse cx="4.2" cy="47.2" rx="2.9" ry="2.2" fill="#5a9a50" fill-opacity="0.20"/>
<ellipse cx="37.9" cy="42.4" rx="7.6" ry="2.1" fill="#5a9a50" fill-opacity="0.18"/>
<ellipse cx="65.5" cy="34.6" rx="6.9" ry="2.1" fill="#5a9a50" fill-opacity="0.18"/>
<ellipse cx="63.4" cy="35.8" rx="5.2" ry="2.1" fill="#5a9a50" fill-opacity="0.19"/>
<ellipse cx="35.1" cy="62.7" rx="8.4" ry="2.3" fill="#5a9a50" fill-opacity="0.22"/>
<ellipse cx="32.5" cy="4.9" rx="9.7" ry="2.0" fill="#5a9a50" fill-opacity="0.16"/>
<ellipse cx="64.7" cy="62.8" rx="3.2" ry="2.3" fill="#5a9a50" fill-opacity="0.21"/>
<ellipse cx="65.1" cy="70.2" rx="8.2" ry="2.0" fill="#5a9a50" fill-opacity="0.16"/>
<ellipse cx="83.8" cy="65.2" rx="5.2" ry="2.2" fill="#5a9a50" fill-opacity="0.19"/>
<ellipse cx="55.3" cy="76.0" rx="3.2" ry="2.3" fill="#5a9a50" fill-opacity="0.21"/>
<ellipse cx="33.4" cy="15.6" rx="3.9" ry="2.0" fill="#5a9a50" fill-opacity="0.17"/>
<ellipse cx="66.1" cy="11.6" rx="7.5" ry="1.9" fill="#5a9a50" fill-opacity="0.15"/>
<ellipse cx="95.0" cy="65.0" rx="7.4" ry="2.3" fill="#5a9a50" fill-opacity="0.22"/>
<ellipse cx="29.0" cy="27.5" rx="8.9" ry="2.1" fill="#5a9a50" fill-opacity="0.18"/>
<ellipse cx="38.3" cy="53.4" rx="5.4" ry="2.0" fill="#5a9a50" fill-opacity="0.17"/>
</g>
<g filter="url(#gb)" fill="none" stroke-linecap="round">
<path d="M30.0 67.8h0.8M19.8 26.3h0.8M27.2 63.5h0.2M22.1 65.9h0.2M25.4 67.6h0.5M18.7 66.9h0.8M79.6 36.3h0.5M74.8 37.4h0.8M90.8 10.6h0.2M94.8 10.3h0.2M-4.6 65.5h0.2M-4.2 64.8h0.8M56.0 73.1h0.5M73.9 64.9h0.8M81.5 66.1h0.5M75.7 64.2h0.5M74.6 33.1h0.8M95.4 51.6h0.2M98.4 53.0h0.5M95.4 9.5h0.2M42.9 49.3h0.5M40.8 49.5h0.8M45.2 50.1h0.8M44.1 49.7h0.2M23.3 67.0h0.8M62.4 1.0h0.8M62.6 53.3h0.8M88.7 3.3h0.8M91.7 3.3h0.5M96.2 40.5h0.5M50.5 50.3h0.2M54.5 45.3h0.5M54.9 65.7h0.8M50.9 63.0h0.2M55.8 63.8h0.2M89.8 63.6h0.5M100.2 64.9h0.8M104.5 65.1h0.8M104.1 63.9h0.5M4.1 53.9h0.5M95.9 19.9h0.2M47.2 20.8h0.8M44.9 19.7h0.5M39.1 22.5h0.8M49.7 29.6h0.5M94.4 63.1h0.2M18.6 38.7h0.8M22.8 36.5h0.2M76.4 75.2h0.2M74.6 75.2h0.8M71.2 76.2h0.2M4.2 46.9h0.5M2.0 48.1h0.2M29.8 43.6h0.2M44.7 43.6h0.2M58.0 33.0h0.8M69.2 33.9h0.2M60.6 36.2h0.2M42.9 63.9h0.2M41.3 63.2h0.8M63.4 64.2h0.5M63.0 62.8h0.2M65.7 69.4h0.5M63.8 70.0h0.5M52.2 76.1h0.2M36.3 14.1h0.2M29.2 16.6h0.2M64.2 10.8h0.2M62.8 10.4h0.2M73.4 10.7h0.5M70.9 12.7h0.5M88.7 63.4h0.2M20.2 26.2h0.8M21.3 28.8h0.2M40.7 52.6h0.5M43.1 54.1h0.5M93.3 63.8h0.4M55.8 71.4h0.1M1.2 72.1h0.4M35.7 64.8h0.1M29.6 59.6h0.4M3.0 13.5h0.1M54.4 58.5h0.1M14.8 61.7h0.4M53.7 54.1h0.1M53.7 20.8h0.1M95.5 10.3h0.1M16.0 32.1h0.4M75.5 19.2h0.1M82.2 72.7h0.4M83.2 31.9h0.4M77.2 49.7h0.1M42.7 38.0h0.4M85.9 73.1h0.1M56.6 19.3h0.4M64.8 5.6h0.4M45.4 51.5h0.1M8.5 73.8h0.4M91.9 68.4h0.4M36.3 37.6h0.1M61.2 66.8h0.1M84.6 46.8h0.4M55.7 71.6h0.4M33.0 57.6h0.4M35.3 64.6h0.1M19.0 1.1h0.4M66.5 0.3h0.4M86.1 59.7h0.1M44.9 5.6h0.4M39.9 36.4h0.1M88.6 20.1h0.1M59.7 52.9h0.4M32.7 37.4h0.1M71.8 63.8h0.4M9.0 44.6h0.4M76.9 60.1h0.1M78.9 35.9h0.1M18.4 44.3h0.4M23.0 19.6h0.4M69.3 2.3h0.1M49.0 16.1h0.4M58.8 68.5h0.4M95.2 68.3h0.1M37.9 39.7h0.4M8.5 3.7h0.1M16.8 47.8h0.1M18.9 9.1h0.4M65.6 36.2h0.1M10.2 5.3h0.4M6.4 61.1h0.4M30.4 36.2h0.4M51.1 59.3h0.4M59.2 8.0h0.4M6.0 52.0h0.1M81.5 50.2h0.1M13.8 53.0h0.1M3.0 69.1h0.1M92.9 8.9h0.4M45.2 72.7h0.4M72.5 29.9h0.1M71.6 69.6h0.4M76.7 2.1h0.1M93.3 46.8h0.4M65.3 50.1h0.1M82.5 43.7h0.4M28.8 47.0h0.4M72.3 58.5h0.1M78.1 49.0h0.1M72.2 61.8h0.4M36.4 63.8h0.4M81.1 66.8h0.1M45.0 35.1h0.1M69.7 27.4h0.1M35.4 46.7h0.1M19.0 35.1h0.4M91.2 23.6h0.4M54.8 8.0h0.1M19.9 27.5h0.1M62.6 43.2h0.4M9.7 60.3h0.1M15.1 48.4h0.4M19.3 22.9h0.1M47.0 57.2h0.1M17.5 69.2h0.1M48.8 70.9h0.1M14.6 33.3h0.1M57.6 19.7h0.4M20.7 47.8h0.1M76.7 68.6h0.1M57.6 68.7h0.1M71.6 54.1h0.4M79.9 32.3h0.4M90.3 33.6h0.1M85.8 42.5h0.4M15.4 31.2h0.4M29.6 48.3h0.1M18.5 24.0h0.1M45.2 21.1h0.4M56.6 11.0h0.1M33.6 29.1h0.1M33.9 32.3h0.4M4.0 59.6h0.4M91.0 47.1h0.1M90.8 11.0h0.4M75.6 44.8h0.4M76.6 11.9h0.1M58.9 61.3h0.4M34.7 68.0h0.4M61.1 36.2h0.4M35.4 29.5h0.1M89.8 28.7h0.1M5.7 61.2h0.1M21.0 33.2h0.1M71.5 65.3h0.1M60.2 53.9h0.1M93.4 2.9h0.1M3.7 24.9h0.1M10.7 12.3h0.4M64.3 73.7h0.4M31.1 31.1h0.4M93.2 75.6h0.1M52.3 67.2h0.4M84.3 45.7h0.4M48.9 11.2h0.1M47.5 52.3h0.1M47.8 70.1h0.1M80.7 27.5h0.1M54.5 55.4h0.4M91.3 70.6h0.4M30.4 57.6h0.4M15.1 65.2h0.4M82.1 75.1h0.1M14.3 57.8h0.4M56.3 10.2h0.1M7.8 34.1h0.1M47.2 54.9h0.4M73.5 52.6h0.4M43.6 65.6h0.4M5.1 75.1h0.1M77.9 2.5h0.1M44.4 35.6h0.4M32.8 70.9h0.1M61.7 57.6h0.4M82.0 17.0h0.1M21.1 68.9h0.1M20.3 31.6h0.4M65.2 56.6h0.4M46.0 40.3h0.4M15.3 52.0h0.4M47.1 20.4h0.4M72.8 44.8h0.1M47.7 21.5h0.1M30.0 2.2h0.1M91.5 34.6h0.4M46.0 70.6h0.1M34.4 46.0h0.1M67.8 44.6h0.1M52.9 15.6h0.1M72.0 18.0h0.4M88.6 75.4h0.1M25.5 74.1h0.4M29.9 43.2h0.4M33.5 54.0h0.1M1.2 15.4h0.1M9.7 70.8h0.4M79.3 67.8h0.4M95.0 47.4h0.1M35.5 27.8h0.4M24.4 10.8h0.1M10.6 60.6h0.4M48.1 43.7h0.4M44.3 57.0h0.1M56.3 32.6h0.1M94.4 18.2h0.1M49.0 71.2h0.1M67.5 32.6h0.1M47.6 75.2h0.1M78.3 60.1h0.1M32.1 7.8h0.1M48.8 12.8h0.4M24.8 34.5h0.4M0.3 16.9h0.1M39.0 40.7h0.4M32.0 20.2h0.1M14.9 5.4h0.4M87.9 7.6h0.4M12.1 5.1h0.1M75.5 60.1h0.4M33.3 52.9h0.4M15.5 33.3h0.1M63.0 19.8h0.4M8.8 16.8h0.4M8.1 23.3h0.4M29.7 15.5h0.1" stroke="#568a4e" stroke-opacity="0.4" stroke-width="1.1"/>
<path d="M34.6 68.1h0.5M88.5 2.6h0.5M86.6 2.1h0.5M16.4 26.4h0.8M23.4 27.2h0.8M28.0 67.6h0.8M20.2 65.4h0.2M73.8 39.2h0.5M76.1 35.8h0.5M82.3 35.5h0.2M86.2 37.0h0.2M70.8 34.2h0.8M87.5 36.6h0.5M87.3 35.9h0.8M99.0 11.5h0.5M-5.2 65.5h0.2M-8.2 67.8h0.2M-0.4 64.9h0.2M56.7 73.1h0.2M58.6 73.0h0.5M61.4 71.6h0.8M74.5 65.0h0.2M71.5 64.3h0.2M77.0 66.3h0.5M77.1 33.1h0.5M76.5 34.3h0.2M88.2 51.0h0.2M90.1 52.6h0.5M99.7 51.9h0.2M99.3 50.9h0.5M86.3 11.5h0.8M87.4 10.5h0.5M86.8 9.9h0.8M96.2 8.4h0.8M87.2 10.2h0.8M32.7 56.7h0.2M32.2 57.8h0.2M37.1 56.0h0.2M43.3 49.5h0.2M23.3 68.2h0.2M25.1 67.4h0.2M25.9 69.5h0.2M38.1 67.3h0.5M57.3 51.2h0.8M52.2 53.9h0.8M58.4 52.8h0.5M60.1 52.8h0.2M50.4 52.3h0.8M97.8 40.9h0.2M95.6 40.8h0.2M50.2 49.0h0.2M50.0 47.5h0.8M57.7 49.0h0.8M48.0 64.5h0.8M41.5 64.7h0.5M46.9 62.4h0.2M40.5 63.5h0.5M90.4 64.1h0.5M107.8 66.7h0.8M100.5 61.9h0.5M94.4 14.9h0.5M95.5 16.0h0.8M94.0 13.6h0.8M95.2 18.8h0.5M94.3 19.7h0.5M90.4 21.8h0.8M44.4 20.8h0.8M46.7 19.7h0.5M102.3 57.2h0.5M96.1 56.4h0.8M94.8 57.0h0.2M100.7 55.5h0.8M53.0 30.7h0.2M84.2 60.3h0.8M78.0 60.7h0.2M15.3 38.5h0.8M19.2 37.4h0.5M15.5 38.7h0.5M68.5 76.3h0.2M79.0 73.8h0.2M79.7 77.4h0.5M5.2 47.8h0.8M33.0 41.7h0.5M32.8 39.7h0.2M43.9 41.7h0.8M44.7 42.1h0.2M45.4 42.8h0.8M39.3 41.3h0.2M67.2 35.6h0.8M68.0 35.8h0.5M66.5 37.1h0.5M26.8 61.8h0.2M36.2 62.4h0.2M27.5 62.6h0.5M21.9 5.4h0.8M26.3 5.1h0.5M41.7 4.2h0.2M62.2 64.3h0.8M65.0 63.9h0.5M56.1 70.3h0.2M59.0 70.6h0.8M86.7 64.7h0.5M79.7 65.6h0.2M58.2 73.7h0.5M37.7 17.1h0.5M30.0 15.8h0.8M60.5 10.8h0.2M58.6 10.4h0.2M91.5 63.1h0.2M90.5 65.3h0.5M93.8 65.7h0.5M29.2 27.0h0.2M20.7 27.3h0.8M25.4 27.9h0.2M33.0 29.1h0.5M22.7 29.1h0.2M38.7 53.5h0.8M36.7 54.7h0.5M59.4 16.4h0.1M9.1 33.1h0.1M86.4 5.4h0.1M61.5 31.3h0.4M20.3 24.9h0.4M44.5 24.6h0.4M66.3 51.4h0.4M35.3 73.1h0.1M60.7 53.6h0.1M78.5 45.7h0.1M2.8 60.7h0.1M10.9 71.0h0.1M68.5 17.4h0.4M21.6 58.6h0.4M12.7 65.2h0.1M66.9 24.0h0.4M16.2 13.2h0.4M67.7 27.5h0.4M58.0 68.4h0.4M21.8 24.2h0.4M10.5 17.3h0.4M64.1 4.2h0.1M75.9 64.0h0.4M31.3 2.0h0.1M30.5 26.2h0.4M46.3 31.6h0.1M2.3 10.0h0.1M50.1 62.4h0.4M20.9 67.1h0.4M57.8 28.7h0.1M83.0 27.5h0.1M48.3 68.5h0.1M51.5 17.6h0.1M44.0 48.5h0.4M39.0 54.8h0.1M39.9 63.8h0.4M61.7 35.4h0.1M27.3 10.3h0.1M58.3 43.0h0.1M26.4 25.3h0.1M90.5 41.9h0.1M73.9 11.3h0.1M15.8 67.9h0.1M42.6 47.3h0.4M85.6 14.5h0.1M75.7 59.9h0.4M56.1 32.5h0.1M57.9 33.1h0.4M26.6 28.2h0.4M91.6 3.5h0.4M33.6 64.7h0.4M7.8 60.1h0.1M32.2 12.4h0.4M60.3 40.5h0.4M85.0 69.5h0.4M35.2 72.9h0.1M64.5 29.2h0.1M6.4 63.1h0.1M34.8 50.3h0.1M40.4 18.0h0.1M85.6 27.2h0.4M21.3 50.9h0.4M18.9 19.7h0.1M32.4 6.0h0.1M16.5 32.8h0.1M3.6 31.7h0.1M24.2 7.5h0.4M27.9 71.0h0.4M66.7 43.9h0.1M22.9 16.8h0.4M8.7 55.2h0.1M92.7 49.0h0.1" stroke="#60a058" stroke-opacity="0.55" stroke-width="1.2"/>
<path d="M36.7 68.0h0.5M30.5 67.6h0.5M31.7 67.6h0.2M35.6 69.6h0.5M15.4 27.2h0.5M21.4 27.6h0.2M19.6 28.4h0.2M25.7 66.2h0.5M23.6 68.2h0.8M18.0 66.9h0.8M75.9 35.0h0.5M91.1 10.3h0.5M82.2 33.5h0.8M81.8 34.4h0.2M90.9 53.5h0.8M29.2 54.0h0.8M25.6 58.3h0.8M28.3 56.7h0.2M40.7 49.2h0.5M36.1 49.3h0.2M27.6 66.9h0.5M57.6 0.4h0.5M61.9 2.0h0.5M62.7 1.2h0.5M64.5 0.6h0.8M90.2 7.1h0.5M90.2 4.2h0.5M56.4 47.9h0.2M54.5 49.5h0.5M93.7 65.0h0.5M5.6 54.3h0.5M5.5 53.8h0.2M40.7 20.6h0.2M103.0 56.2h0.8M55.4 28.4h0.8M93.6 60.0h0.2M97.8 61.4h0.2M97.8 60.6h0.8M88.7 61.3h0.5M95.0 62.5h0.8M24.9 38.2h0.5M18.3 38.4h0.2M23.3 37.8h0.5M26.3 39.8h0.8M13.6 37.9h0.5M78.5 74.9h0.8M80.0 77.0h0.5M3.8 46.9h0.5M66.6 33.3h0.5M67.8 32.8h0.5M63.1 37.6h0.2M59.8 35.3h0.2M36.2 63.3h0.8M40.6 61.5h0.8M39.5 61.6h0.2M37.2 63.8h0.2M34.8 5.8h0.2M41.4 4.5h0.8M37.5 4.6h0.2M25.6 4.4h0.5M27.2 6.2h0.2M68.1 70.3h0.8M68.6 72.7h0.2M67.8 70.6h0.8M81.0 67.0h0.2M89.1 67.0h0.8M89.2 66.4h0.8M52.3 77.2h0.8M58.6 76.6h0.5M54.6 76.7h0.5M91.5 65.5h0.5M36.3 27.4h0.5M21.7 30.0h0.8M40.0 53.5h0.2M41.2 54.1h0.2" stroke="#6ab462" stroke-opacity="0.7" stroke-width="1.3"/>
<path d="M33.5 68.8h0.8M88.0 3.6h0.2M83.5 3.2h0.5M85.1 34.2h0.2M91.6 5.4h0.5M90.7 5.3h0.5M46.5 47.4h0.2M51.4 48.2h0.5M55.6 46.7h0.8M97.9 15.8h0.5M96.7 15.7h0.5M54.5 29.9h0.2M51.0 28.7h0.5M80.4 60.1h0.2M83.9 61.6h0.5M26.9 39.0h0.2M76.8 76.7h0.8M63.3 75.8h0.8M60.5 33.4h0.8M61.6 35.5h0.2M60.4 35.8h0.2M37.3 62.1h0.5M39.4 63.4h0.2M67.1 62.3h0.5M85.1 64.7h0.5M89.6 63.9h0.2M90.8 65.8h0.5M101.1 66.6h0.2M94.8 65.5h0.2M94.5 65.3h0.8M35.7 38.8h0.3M56.2 16.9h0.3M26.5 38.2h0.3M48.2 31.8h0.3M63.5 14.1h0.3M50.8 21.0h0.3M73.6 53.5h0.3M74.7 39.3h0.3M23.8 70.3h0.3M48.8 28.5h0.3M27.8 30.6h0.3M67.7 62.2h0.3M46.1 55.6h0.3M20.4 34.4h0.3M34.2 23.3h0.3M34.4 57.4h0.3M70.1 15.8h0.3M22.4 59.6h0.3" stroke="#7ac870" stroke-opacity="0.85" stroke-width="1.4"/>
</g>
</svg>
<rect x="391.6" y="619.3" width="13.4" height="3.0" fill="#fff"/>
<rect x="415.2" y="617.8" width="95.6" height="76.0" fill="#2a2a21"/>
<svg x="415.2" y="617.8" width="95.6" height="76.0" overflow="hidden">
<g filter="url(#hz)">
<ellipse cx="64.1" cy="51.4" rx="7.3" ry="2.2" fill="#5a9a50" fill-opacity="0.20"/>
<ellipse cx="23.8" cy="4.6" rx="5.3" ry="1.8" fill="#5a9a50" fill-opacity="0.14"/>
<ellipse cx="96.6" cy="39.9" rx="7.5" ry="2.4" fill="#5a9a50" fill-opacity="0.23"/>
<ellipse cx="79.9" cy="17.4" rx="5.1" ry="1.9" fill="#5a9a50" fill-opacity="0.14"/>
<ellipse cx="79.0" cy="56.0" rx="6.2" ry="2.0" fill="#5a9a50" fill-opacity="0.17"/>
<ellipse cx="23.5" cy="37.0" rx="7.8" ry="2.3" fill="#5a9a50" fill-opacity="0.22"/>
<ellipse cx="84.6" cy="65.9" rx="5.9" ry="2.1" fill="#5a9a50" fill-opacity="0.17"/>
<ellipse cx="28.2" cy="74.0" rx="4.0" ry="1.9" fill="#5a9a50" fill-opacity="0.15"/>
<ellipse cx="24.7" cy="70.1" rx="8.8" ry="2.0" fill="#5a9a50" fill-opacity="0.17"/>
<ellipse cx="84.9" cy="67.7" rx="5.8" ry="1.9" fill="#5a9a50" fill-opacity="0.15"/>
<ellipse cx="76.6" cy="28.5" rx="3.6" ry="2.3" fill="#5a9a50" fill-opacity="0.22"/>
<ellipse cx="41.4" cy="30.2" rx="7.0" ry="2.0" fill="#5a9a50" fill-opacity="0.16"/>
<ellipse cx="-2.9" cy="29.6" rx="5.4" ry="1.8" fill="#5a9a50" fill-opacity="0.14"/>
<ellipse cx="34.3" cy="57.9" rx="5.1" ry="2.2" fill="#5a9a50" fill-opacity="0.20"/>
<ellipse cx="61.0" cy="14.3" rx="2.8" ry="2.2" fill="#5a9a50" fill-opacity="0.20"/>
<ellipse cx="59.5" cy="22.3" rx="4.1" ry="2.3" fill="#5a9a50" fill-opacity="0.22"/>
<ellipse cx="91.0" cy="17.7" rx="6.9" ry="2.1" fill="#5a9a50" fill-opacity="0.19"/>
<ellipse cx="29.0" cy="2.8" rx="5.0" ry="2.2" fill="#5a9a50" fill-opacity="0.20"/>
<ellipse cx="58.6" cy="38.8" rx="3.6" ry="1.9" fill="#5a9a50" fill-opacity="0.15"/>
<ellipse cx="27.9" cy="31.6" rx="5.3" ry="2.3" fill="#5a9a50" fill-opacity="0.22"/>
<ellipse cx="7.2" cy="75.0" rx="4.4" ry="2.3" fill="#5a9a50" fill-opacity="0.22"/>
<ellipse cx="20.7" cy="44.6" rx="5.4" ry="1.8" fill="#5a9a50" fill-opacity="0.14"/>
<ellipse cx="79.1" cy="61.6" rx="4.6" ry="2.3" fill="#5a9a50" fill-opacity="0.21"/>
<ellipse cx="45.6" cy="75.0" rx="3.1" ry="2.0" fill="#5a9a50" fill-opacity="0.17"/>
<ellipse cx="19.1" cy="47.5" rx="8.3" ry="2.3" fill="#5a9a50" fill-opacity="0.21"/>
<ellipse cx="52.9" cy="29.4" rx="8.5" ry="1.9" fill="#5a9a50" fill-opacity="0.14"/>
<ellipse cx="22.5" cy="57.2" rx="5.9" ry="2.4" fill="#5a9a50" fill-opacity="0.23"/>
<ellipse cx="4.6" cy="35.1" rx="4.2" ry="1.8" fill="#5a9a50" fill-opacity="0.13"/>
<ellipse cx="4.9" cy="6.9" rx="5.4" ry="2.1" fill="#5a9a50" fill-opacity="0.18"/>
<ellipse cx="48.6" cy="22.0" rx="7.8" ry="2.1" fill="#5a9a50" fill-opacity="0.18"/>
<ellipse cx="98.7" cy="12.9" rx="6.4" ry="2.1" fill="#5a9a50" fill-opacity="0.18"/>
<ellipse cx="34.3" cy="65.5" rx="4.2" ry="2.3" fill="#5a9a50" fill-opacity="0.22"/>
<ellipse cx="32.8" cy="25.5" rx="7.1" ry="2.1" fill="#5a9a50" fill-opacity="0.19"/>
<ellipse cx="25.0" cy="6.4" rx="9.6" ry="2.0" fill="#5a9a50" fill-opacity="0.17"/>
<ellipse cx="7.1" cy="49.9" rx="6.5" ry="2.0" fill="#5a9a50" fill-opacity="0.17"/>
<ellipse cx="29.7" cy="64.2" rx="5.1" ry="2.1" fill="#5a9a50" fill-opacity="0.17"/>
<ellipse cx="96.0" cy="27.4" rx="5.6" ry="1.9" fill="#5a9a50" fill-opacity="0.15"/>
<ellipse cx="65.0" cy="50.5" rx="5.9" ry="2.0" fill="#5a9a50" fill-opacity="0.17"/>
<ellipse cx="19.6" cy="60.0" rx="6.0" ry="2.3" fill="#5a9a50" fill-opacity="0.21"/>
<ellipse cx="34.6" cy="55.7" rx="2.9" ry="1.9" fill="#5a9a50" fill-opacity="0.16"/>
<ellipse cx="96.4" cy="51.9" rx="7.6" ry="2.1" fill="#5a9a50" fill-opacity="0.18"/>
<ellipse cx="44.9" cy="15.0" rx="3.9" ry="2.2" fill="#5a9a50" fill-opacity="0.20"/>
<ellipse cx="68.3" cy="19.7" rx="7.3" ry="1.9" fill="#5a9a50" fill-opacity="0.15"/>
<ellipse cx="59.7" cy="13.0" rx="6.4" ry="2.0" fill="#5a9a50" fill-opacity="0.16"/>
<ellipse cx="53.1" cy="10.2" rx="6.2" ry="2.2" fill="#5a9a50" fill-opacity="0.19"/>
<ellipse cx="9.2" cy="23.5" rx="7.6" ry="2.1" fill="#5a9a50" fill-opacity="0.19"/>
<ellipse cx="60.1" cy="59.3" rx="6.8" ry="1.9" fill="#5a9a50" fill-opacity="0.16"/>
<ellipse cx="41.7" cy="63.1" rx="6.8" ry="2.3" fill="#5a9a50" fill-opacity="0.21"/>
<ellipse cx="33.4" cy="34.1" rx="9.7" ry="2.3" fill="#5a9a50" fill-opacity="0.21"/>
<ellipse cx="63.9" cy="8.1" rx="7.1" ry="1.8" fill="#5a9a50" fill-opacity="0.14"/>
<ellipse cx="93.6" cy="73.9" rx="7.9" ry="2.0" fill="#5a9a50" fill-opacity="0.16"/>
<ellipse cx="84.3" cy="13.5" rx="8.7" ry="2.1" fill="#5a9a50" fill-opacity="0.18"/>
<ellipse cx="-3.3" cy="67.7" rx="5.9" ry="2.3" fill="#5a9a50" fill-opacity="0.21"/>
<ellipse cx="67.7" cy="40.5" rx="8.9" ry="1.9" fill="#5a9a50" fill-opacity="0.15"/>
<ellipse cx="89.9" cy="25.8" rx="2.9" ry="2.0" fill="#5a9a50" fill-opacity="0.17"/>
<ellipse cx="2.0" cy="5.5" rx="7.2" ry="1.9" fill="#5a9a50" fill-opacity="0.15"/>
<ellipse cx="11.9" cy="22.2" rx="4.7" ry="2.4" fill="#5a9a50" fill-opacity="0.22"/>
</g>
<g filter="url(#gb)" fill="none" stroke-linecap="round">
<path d="M65.8 52.8h0.2M90.8 37.5h0.2M83.8 17.1h0.2M79.3 18.6h0.5M80.8 53.9h0.5M85.7 56.5h0.8M83.2 56.8h0.8M84.1 56.8h0.5M20.2 38.1h0.8M86.5 65.1h0.5M26.7 75.2h0.5M33.8 69.2h0.2M22.6 70.1h0.2M27.6 69.2h0.2M90.2 66.0h0.2M79.1 27.2h0.2M79.1 27.1h0.5M42.9 30.5h0.8M44.2 29.9h0.5M42.7 31.6h0.5M37.2 30.2h0.8M1.2 29.4h0.8M0.8 29.3h0.8M35.9 58.4h0.8M36.1 58.3h0.5M62.1 15.6h0.5M59.7 21.5h0.8M84.6 16.9h0.2M89.1 18.9h0.2M97.0 18.1h0.8M28.6 2.4h0.8M56.7 40.3h0.5M29.4 30.5h0.2M24.0 32.7h0.5M5.6 75.5h0.5M23.5 45.1h0.8M15.3 45.8h0.2M27.1 48.5h0.5M11.0 47.2h0.5M19.8 48.1h0.2M60.4 29.4h0.5M55.4 31.0h0.2M60.8 26.7h0.8M54.9 30.7h0.8M3.3 36.4h0.5M43.0 22.0h0.8M57.1 23.3h0.8M54.1 20.5h0.2M96.0 12.4h0.5M97.1 11.2h0.5M30.1 65.8h0.5M26.8 26.1h0.5M36.9 24.4h0.8M35.2 24.4h0.5M31.0 6.2h0.8M19.0 5.5h0.8M21.1 6.7h0.8M26.1 6.5h0.2M5.6 49.9h0.5M4.9 49.7h0.8M101.0 29.3h0.8M93.7 29.8h0.2M23.4 60.5h0.5M94.1 53.0h0.2M101.7 52.2h0.2M68.3 20.5h0.2M54.0 13.9h0.8M55.7 11.9h0.5M55.9 13.1h0.2M61.6 11.2h0.8M54.2 11.2h0.5M10.3 23.9h0.2M16.1 24.7h0.8M59.3 61.0h0.2M64.6 60.7h0.8M66.4 60.4h0.8M64.5 61.0h0.8M38.3 33.2h0.5M40.5 33.6h0.5M100.1 75.2h0.5M102.1 73.9h0.5M86.6 72.0h0.8M96.1 73.5h0.2M79.5 14.0h0.8M85.3 13.4h0.5M83.7 13.7h0.2M-7.6 66.5h0.5M73.6 41.2h0.5M64.5 39.9h0.8M92.6 26.2h0.8M62.0 3.4h0.1M8.5 30.4h0.4M61.9 33.8h0.4M55.5 40.3h0.4M93.3 72.7h0.4M7.2 9.4h0.1M51.8 69.9h0.1M91.7 16.8h0.1M38.4 21.8h0.4M28.7 51.2h0.4M72.7 43.6h0.1M45.0 35.3h0.1M9.3 72.0h0.1M81.6 62.0h0.1M22.1 28.1h0.1M16.8 73.4h0.1M44.1 74.7h0.1M89.5 7.9h0.4M51.1 72.7h0.1M7.2 40.5h0.4M7.0 42.2h0.4M33.1 1.9h0.1M35.1 44.2h0.4M9.1 69.9h0.4M33.3 10.9h0.4M43.0 17.9h0.4M64.0 64.1h0.1M8.1 74.4h0.1M14.0 70.1h0.1M39.0 64.3h0.1M0.3 7.0h0.1M12.2 33.7h0.1M68.3 74.8h0.4M30.6 4.6h0.1M56.2 74.5h0.1M61.1 17.4h0.1M42.0 74.9h0.4M51.2 51.6h0.4M10.1 56.7h0.4M81.5 6.4h0.4M45.2 35.9h0.4M47.4 70.7h0.1M85.7 75.6h0.4M48.1 37.6h0.1M6.8 9.0h0.4M60.3 70.7h0.1M38.5 44.1h0.1M2.6 40.0h0.1M72.2 26.2h0.1M34.2 47.1h0.4M71.1 64.3h0.4M74.5 29.7h0.4M87.8 55.9h0.1M1.9 25.9h0.1M73.7 5.5h0.1M37.8 16.8h0.1M65.8 39.4h0.1M7.8 57.0h0.4M19.0 23.1h0.1M32.2 31.4h0.1M29.6 64.5h0.1M39.0 43.1h0.1M10.1 41.1h0.1M69.9 46.8h0.1M79.0 47.1h0.4M37.7 20.4h0.4M60.4 70.9h0.4M62.1 55.8h0.1M7.0 75.4h0.1M80.8 12.2h0.4M35.0 62.3h0.4M65.5 65.1h0.4M34.4 24.6h0.4M70.6 37.5h0.1M7.7 35.9h0.4M85.2 9.3h0.1M0.5 14.0h0.1M60.1 47.1h0.1M62.9 14.9h0.4M7.3 58.5h0.4M26.6 15.0h0.1M64.4 17.8h0.1M40.6 40.3h0.4M14.3 50.3h0.1M47.2 72.4h0.1M14.0 5.9h0.4M62.7 6.7h0.1M2.5 7.1h0.1M73.6 40.9h0.1M92.8 57.8h0.4M76.5 20.1h0.4M66.5 3.3h0.1M10.1 36.8h0.1M42.0 73.7h0.4M50.7 29.5h0.1M59.8 6.5h0.1M33.6 24.3h0.4M57.8 62.4h0.1M86.6 17.1h0.1M92.3 33.4h0.1M66.0 54.7h0.1M86.0 23.4h0.4M27.1 69.8h0.4M49.4 17.7h0.1M46.6 74.5h0.1M47.1 17.1h0.4M82.5 11.5h0.4M0.6 30.2h0.1M87.2 49.0h0.4M12.8 0.7h0.4M94.2 5.2h0.4M16.0 23.9h0.4M75.1 14.1h0.4M1.1 46.4h0.1M40.5 70.3h0.1M21.8 3.6h0.1M73.8 73.3h0.1M68.5 2.6h0.1M79.4 52.5h0.1M32.3 17.9h0.1M92.6 65.7h0.4M91.4 18.5h0.1M20.6 9.9h0.1M91.6 5.9h0.4M20.0 69.7h0.4M85.7 42.7h0.1M17.3 14.9h0.1M10.9 16.9h0.1M70.8 21.9h0.4M6.7 34.3h0.4M44.3 28.9h0.4M17.3 44.2h0.4M87.2 7.0h0.1M48.8 40.5h0.4M22.9 25.0h0.4M86.2 71.3h0.1M56.1 47.3h0.4M32.2 33.5h0.1M36.1 17.4h0.4M56.0 7.8h0.4M82.1 23.0h0.4M1.7 26.7h0.1M89.6 37.1h0.4M91.8 6.6h0.4M34.2 19.0h0.4M2.9 53.3h0.1M25.7 73.0h0.1M17.4 44.1h0.1M83.8 8.0h0.1M85.7 64.6h0.1M89.5 37.4h0.1M75.3 63.4h0.1M47.1 24.8h0.1M44.0 20.9h0.1M15.3 22.5h0.4M83.7 48.4h0.1M95.5 72.2h0.1M49.9 13.9h0.1M63.4 22.2h0.4M47.1 29.2h0.1M64.6 29.1h0.1M41.9 8.7h0.4M24.3 31.2h0.1M73.0 43.4h0.4M52.1 66.9h0.4M6.9 11.1h0.4M80.4 61.0h0.1M57.7 15.4h0.4M68.8 45.7h0.1M37.2 32.3h0.4M85.6 24.8h0.1M47.1 14.3h0.4M95.3 1.1h0.1M5.9 42.6h0.1M12.5 65.8h0.1M90.6 54.5h0.1M82.9 5.2h0.1M27.8 75.5h0.1M44.3 55.4h0.1M60.3 33.4h0.4M10.4 35.2h0.4M38.5 39.6h0.1M69.0 3.0h0.4M30.3 40.5h0.4M39.4 53.8h0.4M55.8 26.9h0.4M40.3 22.5h0.4M17.6 13.9h0.4M44.3 53.2h0.4M8.0 5.6h0.4M70.7 64.5h0.4M11.2 5.6h0.1M82.6 28.4h0.4M2.0 65.6h0.1M80.1 1.9h0.4M83.5 46.8h0.4M13.2 44.2h0.4M79.1 49.5h0.1M20.0 49.2h0.4M36.0 38.9h0.1M22.2 48.2h0.1M93.7 41.2h0.4M30.6 74.5h0.1M40.2 38.4h0.4M88.9 4.1h0.1M37.2 63.3h0.1M94.7 50.2h0.1M20.5 71.9h0.1M38.8 5.7h0.1M4.1 34.6h0.4M44.8 3.3h0.1M32.3 62.5h0.4M89.0 22.2h0.1M3.0 1.0h0.1M50.7 9.7h0.1M75.5 2.0h0.1M51.6 35.1h0.1M74.5 33.7h0.1M51.9 26.9h0.1M50.4 57.3h0.1M34.7 35.5h0.1M82.1 14.2h0.1M67.5 27.5h0.4M73.7 16.3h0.4M91.7 15.7h0.1M34.0 70.4h0.1M4.0 20.6h0.1M79.8 8.4h0.1M61.9 6.7h0.4M52.6 67.8h0.1M39.4 6.5h0.1M6.0 31.7h0.4M73.1 21.1h0.4M25.2 5.7h0.1M16.1 63.7h0.4M69.7 54.9h0.1M77.1 9.8h0.1M15.4 57.2h0.1M20.3 23.9h0.1M33.1 56.1h0.1M16.2 24.4h0.1M31.9 1.8h0.4M54.8 62.9h0.4M48.5 48.0h0.4M56.6 72.6h0.1M28.7 57.2h0.4M68.3 25.0h0.4M24.8 44.8h0.1" stroke="#568a4e" stroke-opacity="0.4" stroke-width="1.1"/>
<path d="M67.9 51.1h0.2M60.0 51.0h0.2M23.9 4.4h0.8M27.3 4.6h0.5M20.4 3.6h0.5M19.8 6.1h0.5M99.2 40.1h0.8M93.5 40.7h0.2M95.5 38.6h0.2M93.5 39.2h0.2M76.3 16.5h0.2M76.1 16.8h0.5M77.3 54.6h0.2M29.3 37.3h0.2M19.2 36.6h0.8M32.1 35.8h0.2M91.1 66.2h0.2M81.5 67.6h0.2M89.1 65.4h0.8M30.1 72.7h0.2M26.4 75.2h0.2M18.4 69.1h0.2M17.2 70.9h0.5M21.2 70.9h0.5M17.9 68.9h0.8M85.2 68.7h0.5M90.0 67.8h0.2M86.4 69.1h0.5M83.7 68.4h0.2M73.8 30.0h0.2M79.1 28.0h0.5M43.6 29.7h0.5M-5.6 30.6h0.2M3.1 30.4h0.8M30.6 56.5h0.8M33.0 57.6h0.5M36.1 55.1h0.8M61.4 13.2h0.2M60.3 15.2h0.8M63.0 23.0h0.5M97.9 18.0h0.8M89.5 17.8h0.5M92.3 19.2h0.2M25.0 0.8h0.8M23.9 1.8h0.8M60.8 37.6h0.5M61.9 39.2h0.2M24.4 33.3h0.8M25.9 35.2h0.2M26.6 30.9h0.8M10.1 73.9h0.2M8.4 76.2h0.5M15.9 45.2h0.5M20.4 43.2h0.5M80.3 61.7h0.8M74.2 60.6h0.8M46.5 74.7h0.8M47.8 31.6h0.2M50.9 30.4h0.5M27.3 56.7h0.5M25.9 57.0h0.8M21.7 58.1h0.2M27.3 57.5h0.5M6.6 35.5h0.8M2.6 33.3h0.2M4.0 34.4h0.5M2.5 7.2h0.2M4.8 7.4h0.2M4.9 7.0h0.2M4.7 6.3h0.5M51.4 23.1h0.8M42.2 21.1h0.8M48.1 23.5h0.2M101.0 12.3h0.8M94.0 14.2h0.5M96.3 12.3h0.5M30.3 65.4h0.2M25.4 25.4h0.5M40.5 24.0h0.5M35.5 26.4h0.8M31.6 5.4h0.5M14.6 6.1h0.5M33.0 7.8h0.8M3.6 48.9h0.5M11.5 48.3h0.2M27.2 62.8h0.8M25.7 64.9h0.5M31.3 64.7h0.5M32.7 63.1h0.8M94.4 27.6h0.5M91.3 27.8h0.5M96.0 28.2h0.8M65.8 49.5h0.5M63.0 50.4h0.8M21.2 60.4h0.5M24.8 61.9h0.8M34.6 57.4h0.8M32.8 55.4h0.5M37.6 57.3h0.5M100.7 54.3h0.5M47.6 14.8h0.2M44.1 13.8h0.5M41.6 15.3h0.2M75.7 18.4h0.8M74.4 19.2h0.2M62.5 20.0h0.2M67.6 19.3h0.8M65.7 13.4h0.8M62.5 12.8h0.8M54.5 10.3h0.2M54.4 11.5h0.5M54.1 11.0h0.5M4.8 24.3h0.8M8.2 23.9h0.2M7.5 22.1h0.2M16.6 23.2h0.2M64.9 57.6h0.5M64.8 59.0h0.5M43.1 62.4h0.2M39.1 62.7h0.8M28.4 35.5h0.8M26.0 33.2h0.5M27.3 32.9h0.2M26.5 34.9h0.5M26.5 32.9h0.8M24.2 35.7h0.2M57.8 7.7h0.5M69.1 9.3h0.8M68.5 8.5h0.8M66.4 6.4h0.2M58.6 8.0h0.8M91.8 74.2h0.8M86.5 13.1h0.5M93.2 12.6h0.2M77.2 14.0h0.8M71.5 39.8h0.5M70.7 41.6h0.2M59.8 40.3h0.8M90.7 26.4h0.8M92.9 27.7h0.8M2.6 6.0h0.8M1.1 6.1h0.8M-6.0 5.5h0.2M0.0 6.3h0.2M-3.5 3.2h0.5M9.5 5.1h0.2M16.7 22.6h0.8M10.2 21.8h0.2M31.4 44.2h0.4M57.1 8.5h0.4M31.6 54.5h0.1M83.8 19.5h0.1M89.4 25.8h0.4M95.1 71.0h0.4M66.9 24.6h0.1M35.6 45.3h0.1M23.7 52.5h0.4M19.4 26.3h0.1M19.3 68.6h0.4M1.3 53.8h0.1M71.3 27.1h0.1M56.2 12.0h0.4M29.9 20.3h0.4M50.1 65.1h0.4M77.4 60.0h0.1M25.7 29.6h0.1M94.4 58.9h0.1M95.4 29.7h0.4M41.6 9.7h0.4M92.0 35.4h0.1M51.6 36.6h0.4M11.1 42.8h0.4M10.0 28.1h0.4M50.6 25.8h0.4M54.0 42.6h0.1M42.0 17.6h0.1M70.3 5.5h0.4M67.6 55.1h0.4M62.5 12.4h0.4M61.4 45.2h0.4M44.8 65.8h0.4M75.8 8.9h0.4M35.2 64.7h0.1M4.8 12.5h0.4M48.7 46.3h0.4M56.8 3.8h0.1M29.5 63.4h0.4M14.9 59.2h0.1M13.2 38.5h0.4M45.3 56.7h0.1M52.2 27.1h0.1M1.2 11.4h0.4M30.0 45.5h0.4M88.4 42.1h0.4M3.4 34.3h0.1M4.2 9.5h0.1M18.4 63.8h0.1M6.1 42.4h0.4M72.0 69.4h0.1M73.4 5.7h0.4M6.4 20.6h0.4M46.5 66.1h0.1M62.5 12.0h0.4M28.2 61.8h0.1M89.6 68.5h0.4M7.1 38.1h0.1M34.8 21.0h0.1M34.3 29.5h0.1M62.5 52.5h0.1M14.0 38.5h0.4M4.1 31.0h0.1M93.4 41.8h0.4M67.3 59.4h0.1M17.3 71.3h0.1M22.4 64.0h0.1M91.4 73.1h0.1M26.3 9.3h0.4M5.4 11.9h0.1M4.3 71.4h0.4M12.8 65.1h0.1M39.2 60.0h0.1M59.0 54.1h0.4M25.0 69.0h0.1M8.8 28.4h0.4M42.9 23.0h0.4M1.3 30.3h0.4M63.5 14.3h0.1M73.1 38.8h0.1M16.4 69.7h0.1M53.4 58.8h0.1" stroke="#60a058" stroke-opacity="0.55" stroke-width="1.2"/>
<path d="M71.4 50.7h0.2M62.2 50.3h0.5M63.2 50.3h0.5M101.8 40.6h0.5M92.9 40.4h0.2M97.5 37.8h0.8M103.2 39.7h0.2M101.4 39.2h0.5M75.1 55.0h0.5M16.8 37.0h0.2M20.3 35.8h0.2M27.8 36.4h0.5M79.2 64.4h0.2M86.4 66.1h0.2M24.7 74.0h0.2M30.2 69.7h0.8M77.3 27.4h0.2M76.9 31.1h0.5M37.0 29.8h0.5M39.1 57.3h0.5M62.7 23.3h0.2M55.7 23.4h0.2M90.2 17.8h0.2M83.7 17.2h0.8M32.2 3.3h0.5M30.1 4.5h0.5M61.0 38.8h0.2M30.7 32.2h0.2M26.9 32.8h0.2M26.0 30.1h0.5M10.8 75.0h0.5M11.8 75.7h0.2M11.8 73.7h0.5M77.6 61.1h0.8M80.5 61.1h0.5M44.2 74.7h0.8M42.6 74.5h0.2M48.4 75.5h0.2M23.6 48.2h0.8M14.4 47.1h0.5M17.2 47.7h0.8M25.6 45.7h0.2M27.8 56.7h0.2M17.5 56.6h0.5M10.1 5.6h0.5M3.4 8.0h0.5M52.0 21.8h0.2M99.8 14.9h0.5M36.4 66.7h0.8M32.4 66.1h0.5M33.7 65.8h0.8M29.6 26.8h0.2M27.7 26.0h0.5M21.8 6.5h0.5M16.1 5.0h0.8M4.6 48.6h0.8M4.0 49.2h0.5M34.8 62.0h0.2M26.5 64.5h0.5M68.6 50.4h0.5M70.4 50.6h0.2M70.5 51.4h0.2M61.0 49.9h0.5M13.7 59.6h0.5M15.4 59.4h0.2M14.1 59.3h0.2M25.6 61.1h0.8M96.0 52.5h0.5M102.5 51.2h0.5M91.2 51.8h0.8M99.9 51.5h0.8M90.2 50.6h0.8M49.2 14.5h0.2M42.6 16.6h0.5M67.2 19.2h0.5M56.3 9.7h0.5M55.2 10.4h0.8M4.9 23.4h0.5M41.8 62.2h0.5M39.4 58.9h0.5M35.6 61.5h0.8M36.8 62.8h0.2M44.2 34.6h0.2M39.2 33.9h0.2M89.3 72.9h0.2M88.9 73.1h0.2M84.6 12.1h0.8M75.0 13.2h0.2M93.3 12.8h0.8M-7.8 67.6h0.5M-4.8 68.0h0.8M-6.7 66.3h0.8M0.1 65.8h0.2M-2.5 67.2h0.2M1.6 67.2h0.2M61.4 41.5h0.5M65.8 40.8h0.8M90.2 25.2h0.5M10.4 23.5h0.8M12.9 21.1h0.5M12.4 22.3h0.2" stroke="#6ab462" stroke-opacity="0.7" stroke-width="1.3"/>
<path d="M70.7 51.8h0.5M68.7 50.7h0.5M60.4 51.6h0.8M103.6 38.6h0.2M22.0 38.2h0.2M19.6 35.7h0.5M18.5 37.8h0.2M35.9 56.7h0.5M60.7 15.3h0.2M59.3 21.9h0.2M57.0 22.9h0.5M24.5 1.9h0.8M82.5 60.5h0.2M76.4 62.1h0.8M24.0 47.0h0.2M27.4 48.2h0.5M24.5 48.0h0.2M13.8 48.0h0.5M27.1 57.8h0.8M22.0 57.7h0.2M16.9 57.8h0.2M48.2 23.8h0.2M98.9 11.8h0.5M33.1 64.8h0.8M19.2 59.6h0.5M57.3 9.5h0.2M7.4 22.5h0.2M39.2 61.7h0.2M40.9 62.8h0.8M43.5 63.8h0.8M31.4 33.0h0.2M31.8 34.3h0.5M2.3 69.1h0.2M14.8 20.6h0.2M16.7 24.6h0.5M15.4 35.4h0.3M59.2 56.8h0.3M0.4 73.5h0.3M25.5 57.2h0.3M92.8 55.5h0.3M80.1 53.4h0.3M91.9 35.7h0.3M72.8 38.6h0.3M53.1 33.9h0.3M16.3 37.8h0.3M12.5 20.1h0.3M10.6 30.3h0.3M2.0 61.2h0.3M24.4 2.4h0.3M51.6 14.8h0.3M37.7 71.8h0.3M87.7 73.1h0.3M31.0 12.7h0.3M50.3 73.6h0.3M59.1 39.4h0.3M51.5 72.4h0.3M47.4 12.0h0.3" stroke="#7ac870" stroke-opacity="0.85" stroke-width="1.4"/>
</g>
</svg>
<rect x="494.6" y="619.3" width="13.4" height="3.0" fill="#fff"/>
<rect x="312.2" y="701.4" width="95.6" height="76.0" fill="#2a2a21"/>
<svg x="312.2" y="701.4" width="95.6" height="76.0" overflow="hidden">
<g filter="url(#hz)">
<ellipse cx="30.9" cy="21.0" rx="3.3" ry="2.2" fill="#5a9a50" fill-opacity="0.20"/>
<ellipse cx="14.1" cy="39.4" rx="9.3" ry="2.0" fill="#5a9a50" fill-opacity="0.16"/>
<ellipse cx="41.1" cy="26.6" rx="3.1" ry="2.0" fill="#5a9a50" fill-opacity="0.16"/>
<ellipse cx="43.0" cy="11.4" rx="4.8" ry="2.2" fill="#5a9a50" fill-opacity="0.19"/>
<ellipse cx="38.4" cy="9.7" rx="6.4" ry="2.1" fill="#5a9a50" fill-opacity="0.18"/>
<ellipse cx="51.0" cy="50.5" rx="9.8" ry="2.0" fill="#5a9a50" fill-opacity="0.17"/>
<ellipse cx="-3.9" cy="6.6" rx="7.9" ry="2.0" fill="#5a9a50" fill-opacity="0.17"/>
<ellipse cx="3.2" cy="61.4" rx="6.7" ry="2.2" fill="#5a9a50" fill-opacity="0.20"/>
<ellipse cx="78.1" cy="57.3" rx="7.8" ry="2.3" fill="#5a9a50" fill-opacity="0.21"/>
<ellipse cx="90.3" cy="55.2" rx="3.0" ry="1.9" fill="#5a9a50" fill-opacity="0.14"/>
<ellipse cx="20.8" cy="65.1" rx="4.3" ry="2.3" fill="#5a9a50" fill-opacity="0.22"/>
<ellipse cx="80.0" cy="33.3" rx="4.0" ry="1.9" fill="#5a9a50" fill-opacity="0.14"/>
<ellipse cx="91.7" cy="6.1" rx="6.7" ry="1.9" fill="#5a9a50" fill-opacity="0.15"/>
<ellipse cx="65.5" cy="20.2" rx="8.1" ry="2.0" fill="#5a9a50" fill-opacity="0.17"/>
<ellipse cx="73.4" cy="64.9" rx="8.1" ry="2.1" fill="#5a9a50" fill-opacity="0.19"/>
<ellipse cx="0.5" cy="40.7" rx="6.4" ry="2.2" fill="#5a9a50" fill-opacity="0.19"/>
<ellipse cx="25.9" cy="75.9" rx="7.4" ry="2.3" fill="#5a9a50" fill-opacity="0.22"/>
<ellipse cx="97.6" cy="67.7" rx="8.2" ry="1.9" fill="#5a9a50" fill-opacity="0.15"/>
<ellipse cx="67.5" cy="70.4" rx="6.9" ry="2.4" fill="#5a9a50" fill-opacity="0.23"/>
<ellipse cx="85.3" cy="21.9" rx="5.4" ry="2.2" fill="#5a9a50" fill-opacity="0.20"/>
<ellipse cx="32.6" cy="58.5" rx="3.5" ry="2.3" fill="#5a9a50" fill-opacity="0.22"/>
<ellipse cx="55.5" cy="72.8" rx="5.0" ry="1.9" fill="#5a9a50" fill-opacity="0.15"/>
<ellipse cx="80.7" cy="52.0" rx="5.9" ry="2.0" fill="#5a9a50" fill-opacity="0.16"/>
<ellipse cx="89.9" cy="48.4" rx="6.6" ry="1.8" fill="#5a9a50" fill-opacity="0.14"/>
<ellipse cx="20.4" cy="53.5" rx="2.8" ry="2.3" fill="#5a9a50" fill-opacity="0.22"/>
<ellipse cx="51.6" cy="24.3" rx="4.8" ry="2.1" fill="#5a9a50" fill-opacity="0.18"/>
<ellipse cx="84.1" cy="16.5" rx="9.8" ry="2.2" fill="#5a9a50" fill-opacity="0.19"/>
<ellipse cx="83.7" cy="42.9" rx="8.2" ry="2.3" fill="#5a9a50" fill-opacity="0.21"/>
<ellipse cx="48.7" cy="70.2" rx="3.7" ry="2.2" fill="#5a9a50" fill-opacity="0.20"/>
<ellipse cx="87.0" cy="67.6" rx="7.0" ry="2.2" fill="#5a9a50" fill-opacity="0.19"/>
<ellipse cx="47.0" cy="18.0" rx="7.1" ry="1.9" fill="#5a9a50" fill-opacity="0.14"/>
<ellipse cx="37.3" cy="35.8" rx="3.6" ry="2.0" fill="#5a9a50" fill-opacity="0.17"/>
<ellipse cx="8.4" cy="61.6" rx="7.8" ry="2.2" fill="#5a9a50" fill-opacity="0.19"/>
</g>
<g filter="url(#gb)" fill="none" stroke-linecap="round">
<path d="M18.4 38.7h0.8M23.5 39.3h0.2M17.8 39.4h0.5M39.1 12.2h0.5M41.3 12.0h0.8M44.7 12.5h0.5M39.1 9.7h0.5M42.5 10.3h0.2M56.4 51.9h0.8M56.7 50.9h0.5M55.1 51.1h0.2M55.9 48.9h0.5M44.4 51.7h0.8M4.3 6.4h0.5M-5.4 6.1h0.5M1.4 7.6h0.8M8.4 61.1h0.2M4.5 60.8h0.8M0.2 61.6h0.8M84.5 56.8h0.8M80.8 58.4h0.2M85.6 57.3h0.5M88.1 53.3h0.8M90.6 56.3h0.8M75.7 34.0h0.2M76.5 33.1h0.8M89.1 6.0h0.5M98.9 5.6h0.5M73.5 21.7h0.8M61.5 19.7h0.5M66.6 19.4h0.8M73.6 22.1h0.8M68.2 63.6h0.5M65.4 64.3h0.8M6.6 39.7h0.5M0.8 41.4h0.2M-0.4 40.6h0.5M18.1 76.3h0.5M32.3 77.4h0.8M99.6 67.7h0.2M98.8 66.2h0.5M80.8 23.2h0.8M88.7 21.6h0.5M57.2 71.0h0.2M55.5 72.6h0.5M87.0 51.0h0.2M78.3 52.1h0.5M84.3 47.6h0.5M23.4 53.7h0.2M22.8 53.5h0.2M17.4 52.4h0.2M56.6 22.9h0.8M47.9 25.1h0.5M54.1 24.6h0.8M90.5 18.3h0.8M78.0 16.8h0.5M91.3 13.7h0.8M90.2 16.6h0.2M78.5 42.2h0.5M82.3 43.7h0.8M46.6 70.2h0.8M88.3 67.6h0.5M93.9 66.3h0.5M53.4 18.4h0.8M38.1 35.1h0.8M87.0 57.2h0.4M48.8 49.9h0.4M32.9 32.9h0.1M7.9 69.6h0.4M21.1 8.3h0.1M11.0 37.0h0.1M37.7 34.7h0.4M73.1 52.9h0.1M18.0 48.2h0.4M71.1 20.0h0.1M92.7 72.2h0.4M11.2 7.5h0.4M83.4 24.4h0.1M43.1 62.2h0.4M42.8 4.0h0.1M81.7 42.3h0.1M59.5 69.5h0.4M87.9 52.2h0.1M43.5 35.3h0.4M34.9 62.5h0.4M70.3 66.6h0.1M88.4 72.5h0.4M91.8 74.7h0.1M85.8 64.5h0.4M81.1 28.9h0.1M41.5 8.0h0.4M57.0 47.8h0.1M11.3 24.5h0.1M89.0 28.6h0.4M62.6 1.8h0.1M18.5 7.2h0.1M30.1 29.0h0.4M85.3 24.7h0.4M59.8 62.4h0.1M30.1 65.5h0.4M39.0 45.2h0.1M29.1 67.8h0.4M84.5 57.0h0.1M88.2 2.4h0.1M61.5 26.4h0.4M80.4 56.8h0.1M94.2 70.4h0.1M54.0 57.9h0.4M18.8 57.3h0.1M13.4 72.8h0.4M48.4 31.1h0.1M15.9 34.7h0.4M52.0 25.4h0.4M89.5 8.1h0.1M19.0 47.7h0.1M59.2 59.3h0.4M43.2 4.0h0.4M72.6 15.0h0.1M81.0 75.9h0.1M56.4 53.3h0.4M86.0 4.1h0.4M38.9 42.2h0.1M1.3 5.6h0.4M74.8 52.8h0.4M76.0 19.5h0.1M35.2 44.6h0.1M83.4 32.4h0.4M71.3 72.1h0.1M64.4 65.2h0.4M24.8 25.1h0.4M12.5 13.9h0.1M95.2 13.4h0.4M37.8 60.6h0.1M13.0 45.3h0.4M73.9 73.4h0.4M9.5 67.7h0.1M38.9 29.0h0.4M90.9 25.6h0.1M77.8 30.8h0.1M44.7 13.1h0.1M27.2 27.0h0.1M72.7 20.0h0.1M5.3 26.5h0.1M81.2 35.6h0.1M17.5 66.5h0.1M9.1 42.1h0.4M77.7 15.3h0.1M37.2 24.6h0.1M87.3 12.2h0.4M45.4 5.4h0.4M25.7 55.0h0.4M64.1 33.3h0.1M90.0 1.8h0.4M84.3 61.3h0.1M29.3 43.1h0.1M83.3 11.4h0.4M16.4 50.7h0.1M26.9 27.7h0.4M9.7 43.6h0.4M51.7 5.1h0.1M45.9 5.2h0.4M41.5 29.7h0.1M79.1 9.7h0.1M39.9 65.1h0.4M33.1 42.0h0.4M32.0 35.5h0.4M64.4 50.0h0.4M25.8 69.4h0.1M54.2 25.9h0.1M78.8 43.1h0.1M8.7 49.1h0.1M29.1 58.0h0.4M80.3 52.9h0.1M86.6 51.0h0.4M40.5 10.1h0.4M41.3 46.9h0.4M39.3 8.7h0.4M44.8 33.5h0.1M30.8 36.0h0.1M71.1 22.7h0.4M8.9 22.5h0.4M22.2 63.3h0.4M63.7 4.1h0.4M10.2 6.3h0.4M47.4 35.8h0.1M79.8 49.7h0.4M65.3 40.6h0.1M50.1 54.9h0.1M71.5 66.3h0.4M16.0 7.2h0.4M31.8 67.4h0.1M74.7 33.3h0.1M19.1 55.0h0.1M12.8 3.6h0.1M13.4 20.3h0.1M27.8 4.7h0.1M43.5 69.9h0.1M75.0 74.4h0.4M94.2 33.2h0.4M23.9 73.7h0.4M40.2 47.6h0.4M42.0 50.7h0.1M65.3 19.9h0.1M88.5 31.3h0.1M57.8 20.3h0.4M49.5 57.8h0.4M93.8 8.1h0.1M62.0 25.4h0.4M31.9 54.8h0.4M18.4 24.0h0.1M67.3 5.1h0.1M69.9 34.0h0.4M82.1 31.0h0.4M34.8 16.5h0.1" stroke="#568a4e" stroke-opacity="0.4" stroke-width="1.1"/>
<path d="M19.4 38.5h0.2M13.2 39.2h0.8M21.7 39.3h0.8M24.4 40.2h0.5M44.3 26.6h0.2M40.7 27.2h0.8M42.1 10.4h0.5M47.1 11.6h0.5M43.6 8.5h0.8M31.9 9.6h0.2M54.6 51.9h0.2M-6.3 6.8h0.8M-5.3 8.4h0.5M-4.6 7.0h0.8M75.4 56.4h0.2M72.5 57.7h0.8M72.6 56.8h0.8M81.2 58.0h0.2M90.8 54.8h0.8M16.2 63.4h0.8M16.1 66.7h0.2M78.3 33.8h0.2M84.2 34.7h0.2M84.8 6.7h0.8M93.3 6.2h0.2M98.6 6.7h0.5M72.0 19.2h0.2M66.2 23.7h0.8M73.7 19.8h0.8M70.8 66.8h0.5M77.2 63.8h0.2M76.9 64.3h0.5M4.7 40.7h0.5M0.4 40.0h0.8M4.5 41.8h0.8M33.0 76.7h0.5M31.0 77.1h0.2M25.0 76.3h0.8M102.1 65.8h0.2M99.1 68.6h0.5M94.8 67.5h0.8M105.5 68.7h0.8M61.7 69.6h0.5M66.6 69.2h0.2M73.5 70.7h0.8M70.1 70.6h0.2M73.9 68.9h0.5M90.2 23.8h0.2M82.5 23.3h0.5M84.1 21.0h0.8M34.6 57.6h0.8M34.3 57.8h0.8M54.1 73.0h0.8M57.0 71.7h0.5M76.4 51.2h0.8M82.3 53.4h0.5M86.4 52.8h0.2M86.0 48.3h0.5M91.2 48.3h0.5M86.6 48.6h0.5M89.6 48.7h0.2M54.1 26.4h0.2M84.8 16.4h0.5M79.9 16.7h0.2M77.6 44.1h0.5M85.3 43.1h0.8M81.6 44.5h0.5M90.9 41.2h0.8M49.5 68.5h0.8M93.2 67.1h0.8M82.7 67.8h0.5M84.9 66.7h0.5M49.3 16.2h0.8M49.5 19.8h0.5M42.0 17.7h0.5M50.9 16.1h0.2M38.0 37.4h0.8M38.7 36.6h0.8M14.3 61.5h0.5M1.6 61.9h0.8M2.7 60.7h0.5M1.0 60.8h0.5M1.6 62.1h0.5M88.8 60.2h0.4M46.2 42.6h0.4M59.8 37.2h0.1M87.5 72.1h0.1M71.9 34.7h0.1M22.0 14.4h0.1M9.6 65.1h0.4M91.0 75.9h0.1M24.4 39.0h0.1M29.5 26.8h0.1M72.5 10.9h0.4M56.9 21.6h0.4M2.0 69.5h0.4M65.7 49.2h0.1M45.2 62.7h0.1M59.2 30.1h0.1M77.4 29.6h0.4M50.2 68.6h0.1M24.8 26.4h0.1M39.7 11.6h0.1M77.1 20.2h0.4M45.3 71.5h0.4M83.3 63.0h0.1M38.1 75.1h0.4M42.3 54.2h0.1M21.8 16.4h0.1M1.1 21.8h0.4M30.1 5.6h0.4M48.5 34.4h0.4M39.6 5.0h0.4M49.5 56.7h0.4M1.2 32.2h0.1M22.4 47.1h0.4M35.3 38.4h0.1M4.4 67.6h0.4M68.5 36.4h0.4M26.3 56.6h0.1M39.4 35.2h0.4M81.2 13.8h0.1M11.1 8.2h0.4M78.2 49.8h0.1M16.6 60.4h0.4M48.5 27.2h0.4M78.7 71.5h0.1M95.0 35.6h0.1M43.9 35.2h0.1" stroke="#60a058" stroke-opacity="0.55" stroke-width="1.2"/>
<path d="M30.3 19.0h0.8M33.6 21.1h0.8M33.2 21.4h0.8M28.8 21.8h0.8M12.2 39.2h0.5M41.4 25.6h0.5M43.3 26.3h0.5M45.0 11.3h0.8M34.9 9.6h0.2M32.4 8.4h0.8M34.3 9.9h0.2M46.3 50.3h0.2M51.9 51.3h0.5M56.0 51.3h0.2M-6.3 6.0h0.8M-10.9 6.2h0.5M-1.7 62.9h0.5M1.8 62.7h0.8M4.5 60.4h0.2M7.4 61.0h0.8M-0.4 59.5h0.2M74.9 58.0h0.2M79.4 56.9h0.2M19.6 65.4h0.2M63.0 21.2h0.8M75.6 64.4h0.8M77.2 64.1h0.5M70.2 64.5h0.8M70.4 66.0h0.2M7.3 41.6h0.8M19.3 76.0h0.2M27.3 76.4h0.5M21.1 75.9h0.8M69.9 70.0h0.2M60.8 69.8h0.8M34.2 58.1h0.2M31.6 59.4h0.5M83.2 51.4h0.2M19.7 51.4h0.8M19.6 54.0h0.8M47.8 25.5h0.2M47.3 23.4h0.5M82.5 15.6h0.5M82.4 17.4h0.8M87.9 16.4h0.5M90.7 17.3h0.8M83.3 41.1h0.5M90.6 42.8h0.8M52.6 69.4h0.5M48.1 69.4h0.2M85.3 66.0h0.2M82.4 68.1h0.2M94.6 68.0h0.5M50.5 15.4h0.2M41.1 35.0h0.5M2.5 63.5h0.5M0.5 63.4h0.8M15.7 60.8h0.2M6.7 61.0h0.2" stroke="#6ab462" stroke-opacity="0.7" stroke-width="1.3"/>
<path d="M29.4 19.9h0.5M79.7 58.6h0.8M19.4 65.2h0.8M23.9 65.4h0.8M23.2 65.4h0.8M33.3 76.7h0.2M26.4 75.3h0.2M69.4 70.1h0.8M64.9 71.0h0.8M70.7 69.3h0.5M79.7 24.4h0.2M80.7 22.3h0.8M30.5 57.9h0.2M81.2 15.5h0.5M86.9 41.2h0.2M75.8 42.1h0.8M46.2 69.5h0.5M71.6 39.0h0.3M71.0 37.5h0.3M55.5 31.9h0.3M89.4 75.0h0.3M54.3 42.5h0.3M9.9 43.0h0.3M88.8 18.4h0.3M74.1 19.4h0.3M68.2 21.4h0.3M56.9 58.9h0.3M3.1 63.9h0.3M50.1 18.6h0.3M29.4 42.1h0.3" stroke="#7ac870" stroke-opacity="0.85" stroke-width="1.4"/>
</g>
</svg>
<rect x="391.6" y="702.9" width="13.4" height="3.0" fill="#fff"/>
<rect x="415.2" y="701.4" width="95.6" height="76.0" fill="#2a2a21"/>
<svg x="415.2" y="701.4" width="95.6" height="76.0" overflow="hidden">
<g filter="url(#hz)">
<ellipse cx="73.3" cy="13.5" rx="3.2" ry="1.9" fill="#5a9a50" fill-opacity="0.16"/>
<ellipse cx="62.0" cy="30.6" rx="8.2" ry="2.2" fill="#5a9a50" fill-opacity="0.20"/>
<ellipse cx="33.8" cy="44.8" rx="3.7" ry="2.2" fill="#5a9a50" fill-opacity="0.19"/>
<ellipse cx="63.4" cy="18.0" rx="7.5" ry="1.9" fill="#5a9a50" fill-opacity="0.15"/>
<ellipse cx="97.6" cy="41.6" rx="9.3" ry="2.2" fill="#5a9a50" fill-opacity="0.20"/>
<ellipse cx="17.7" cy="55.7" rx="7.1" ry="2.0" fill="#5a9a50" fill-opacity="0.17"/>
<ellipse cx="68.2" cy="57.8" rx="7.6" ry="1.9" fill="#5a9a50" fill-opacity="0.15"/>
<ellipse cx="97.0" cy="69.1" rx="5.8" ry="2.4" fill="#5a9a50" fill-opacity="0.22"/>
<ellipse cx="99.9" cy="26.2" rx="4.1" ry="1.9" fill="#5a9a50" fill-opacity="0.16"/>
<ellipse cx="46.7" cy="11.0" rx="4.4" ry="2.2" fill="#5a9a50" fill-opacity="0.20"/>
<ellipse cx="-3.0" cy="46.5" rx="5.6" ry="2.2" fill="#5a9a50" fill-opacity="0.20"/>
<ellipse cx="22.3" cy="36.4" rx="4.2" ry="1.8" fill="#5a9a50" fill-opacity="0.14"/>
<ellipse cx="86.3" cy="27.9" rx="4.8" ry="2.4" fill="#5a9a50" fill-opacity="0.22"/>
<ellipse cx="34.1" cy="41.1" rx="3.7" ry="2.0" fill="#5a9a50" fill-opacity="0.17"/>
<ellipse cx="87.4" cy="62.7" rx="8.6" ry="2.3" fill="#5a9a50" fill-opacity="0.22"/>
<ellipse cx="19.4" cy="4.0" rx="3.6" ry="2.2" fill="#5a9a50" fill-opacity="0.20"/>
<ellipse cx="52.6" cy="28.1" rx="7.8" ry="1.9" fill="#5a9a50" fill-opacity="0.16"/>
<ellipse cx="59.2" cy="31.7" rx="3.7" ry="2.3" fill="#5a9a50" fill-opacity="0.21"/>
<ellipse cx="14.5" cy="60.8" rx="8.2" ry="2.1" fill="#5a9a50" fill-opacity="0.18"/>
<ellipse cx="42.9" cy="15.6" rx="3.7" ry="2.2" fill="#5a9a50" fill-opacity="0.20"/>
<ellipse cx="34.2" cy="42.8" rx="5.3" ry="2.0" fill="#5a9a50" fill-opacity="0.16"/>
<ellipse cx="12.2" cy="57.9" rx="5.8" ry="1.9" fill="#5a9a50" fill-opacity="0.15"/>
<ellipse cx="87.2" cy="11.7" rx="4.4" ry="1.9" fill="#5a9a50" fill-opacity="0.15"/>
<ellipse cx="54.1" cy="59.1" rx="2.9" ry="2.4" fill="#5a9a50" fill-opacity="0.22"/>
<ellipse cx="69.2" cy="63.2" rx="5.7" ry="2.1" fill="#5a9a50" fill-opacity="0.18"/>
<ellipse cx="4.9" cy="19.9" rx="9.0" ry="2.0" fill="#5a9a50" fill-opacity="0.16"/>
<ellipse cx="90.1" cy="63.3" rx="9.3" ry="1.9" fill="#5a9a50" fill-opacity="0.15"/>
<ellipse cx="39.6" cy="63.4" rx="4.9" ry="1.9" fill="#5a9a50" fill-opacity="0.16"/>
<ellipse cx="-2.8" cy="40.5" rx="6.7" ry="1.9" fill="#5a9a50" fill-opacity="0.15"/>
<ellipse cx="22.4" cy="48.1" rx="3.9" ry="2.3" fill="#5a9a50" fill-opacity="0.21"/>
<ellipse cx="87.1" cy="31.9" rx="3.6" ry="2.1" fill="#5a9a50" fill-opacity="0.19"/>
<ellipse cx="26.2" cy="8.0" rx="7.8" ry="2.1" fill="#5a9a50" fill-opacity="0.19"/>
<ellipse cx="23.7" cy="18.8" rx="7.9" ry="2.4" fill="#5a9a50" fill-opacity="0.22"/>
<ellipse cx="32.1" cy="44.5" rx="4.3" ry="2.1" fill="#5a9a50" fill-opacity="0.18"/>
<ellipse cx="56.3" cy="23.2" rx="7.1" ry="2.1" fill="#5a9a50" fill-opacity="0.19"/>
<ellipse cx="-0.4" cy="9.0" rx="5.7" ry="1.9" fill="#5a9a50" fill-opacity="0.15"/>
<ellipse cx="52.7" cy="45.1" rx="7.2" ry="2.3" fill="#5a9a50" fill-opacity="0.22"/>
</g>
<g filter="url(#gb)" fill="none" stroke-linecap="round">
<path d="M56.4 31.5h0.8M33.6 44.4h0.5M35.5 44.4h0.8M30.4 44.8h0.5M71.5 16.1h0.5M60.7 18.5h0.5M93.2 40.8h0.2M87.3 43.0h0.8M96.0 41.7h0.5M66.0 57.4h0.5M64.5 57.7h0.5M92.2 69.0h0.2M91.0 67.9h0.8M102.5 68.1h0.5M98.1 25.5h0.5M98.3 27.7h0.2M98.3 24.7h0.2M96.3 25.9h0.8M0.3 46.5h0.2M24.0 36.0h0.8M85.1 29.0h0.5M85.1 27.9h0.2M90.8 27.0h0.8M80.4 63.3h0.5M56.0 29.1h0.5M56.2 31.7h0.5M19.6 60.9h0.5M22.0 60.7h0.8M15.3 61.0h0.2M41.9 14.4h0.2M88.9 9.0h0.2M69.3 63.9h0.8M1.0 19.5h0.8M9.5 19.1h0.8M82.7 61.5h0.8M83.6 63.8h0.5M40.4 63.5h0.5M38.4 63.3h0.8M36.7 64.7h0.8M-6.7 39.3h0.2M26.0 48.1h0.5M30.0 8.3h0.2M32.5 10.0h0.2M23.4 7.5h0.5M18.1 18.5h0.2M25.0 18.2h0.5M31.1 44.5h0.5M28.8 46.3h0.5M59.4 22.2h0.5M51.2 23.3h0.8M56.4 23.4h0.8M49.8 24.4h0.2M-3.6 9.5h0.8M2.5 10.7h0.2M60.0 44.9h0.5M58.5 45.2h0.8M12.5 15.3h0.4M24.0 67.5h0.1M56.1 32.8h0.1M53.2 8.8h0.1M55.2 55.5h0.1M54.2 38.9h0.1M81.1 21.8h0.4M66.8 63.8h0.1M72.8 25.0h0.4M4.0 23.1h0.1M45.8 30.4h0.4M12.0 44.2h0.4M6.4 51.5h0.4M52.7 58.8h0.4M87.4 56.5h0.4M33.4 5.5h0.1M33.7 50.2h0.4M24.3 17.4h0.1M30.3 21.3h0.1M69.2 54.6h0.4M20.1 72.5h0.1M4.8 72.1h0.4M85.1 45.4h0.1M68.3 31.1h0.1M5.4 75.2h0.1M85.0 5.5h0.1M24.5 54.9h0.4M86.9 43.8h0.1M22.4 37.7h0.4M54.1 69.3h0.4M20.3 33.6h0.1M13.4 8.9h0.1M31.0 45.8h0.4M54.3 75.3h0.4M85.9 0.7h0.4M21.1 15.5h0.1M5.8 2.9h0.4M7.5 16.3h0.1M14.3 8.7h0.1M17.1 46.9h0.1M46.8 38.1h0.1M4.3 21.6h0.4M28.7 36.8h0.4M59.2 41.8h0.4M66.9 29.7h0.4M43.4 39.6h0.1M40.2 30.8h0.1M78.4 22.9h0.4M19.1 45.2h0.4M11.8 72.7h0.1M67.4 46.4h0.1M79.6 59.6h0.1M24.2 30.4h0.4M82.9 70.7h0.1M59.2 30.8h0.1M91.9 43.7h0.1M34.7 22.4h0.1M68.5 20.7h0.4M27.2 43.4h0.1M87.7 67.1h0.1M60.6 52.3h0.1M18.8 69.5h0.4M42.3 0.2h0.1M26.0 17.8h0.4M72.6 29.6h0.1M68.1 10.2h0.1M67.9 72.7h0.1M13.7 19.0h0.4M39.9 29.1h0.1M78.6 24.2h0.4M46.0 68.8h0.4M47.2 1.6h0.4M80.6 25.2h0.4M44.7 9.7h0.1M42.2 5.4h0.1M13.5 40.2h0.1M43.1 0.1h0.4M19.5 30.0h0.1M23.8 67.5h0.1M52.1 48.2h0.4M3.4 33.6h0.4M25.5 31.8h0.1M30.8 36.1h0.4M76.2 41.3h0.1M33.1 13.8h0.4M31.6 7.8h0.1M42.8 16.1h0.4M35.1 22.1h0.1M57.2 19.0h0.1M80.7 18.9h0.1M21.4 3.7h0.1M76.2 45.5h0.4M79.2 33.5h0.4M85.8 27.5h0.1M58.6 66.3h0.1M42.3 52.4h0.4M48.2 47.3h0.4M94.3 27.9h0.1M37.1 28.6h0.4M67.9 0.5h0.1M7.6 44.5h0.4M42.4 67.6h0.4M72.4 22.2h0.1M54.9 38.1h0.4M71.2 43.0h0.1M74.7 72.7h0.1M20.0 8.9h0.4M23.1 65.3h0.4M56.8 12.7h0.1M6.2 15.6h0.1M68.1 75.1h0.1M6.6 14.2h0.1M67.9 39.1h0.1M28.5 66.5h0.1M32.9 15.3h0.1M48.4 75.2h0.4M19.3 23.6h0.4M11.6 27.5h0.1M89.6 32.6h0.4M82.0 61.7h0.4M42.2 31.2h0.1M53.1 66.6h0.4M51.2 37.4h0.4M27.6 34.6h0.1M47.5 42.8h0.4M81.5 16.1h0.4M33.2 7.9h0.1M18.6 20.7h0.4M35.2 67.7h0.1M46.5 70.3h0.1M84.2 3.6h0.1M91.4 16.7h0.1M26.0 35.2h0.4M54.8 44.4h0.1M58.7 16.6h0.1M76.4 18.7h0.4M23.7 71.5h0.4M54.9 47.0h0.1M38.6 24.3h0.1M7.5 69.5h0.4M24.3 25.1h0.4" stroke="#568a4e" stroke-opacity="0.4" stroke-width="1.1"/>
<path d="M74.0 11.1h0.2M70.5 12.2h0.5M73.6 12.8h0.2M74.0 15.5h0.8M65.5 29.2h0.2M62.1 30.0h0.8M53.7 29.6h0.5M70.0 30.4h0.8M62.9 19.9h0.2M56.0 18.9h0.5M59.6 17.4h0.2M99.1 41.0h0.2M98.4 40.7h0.2M89.4 40.9h0.2M20.6 55.4h0.8M11.3 54.9h0.8M24.5 55.5h0.2M25.1 57.0h0.5M73.3 57.3h0.2M66.2 58.7h0.5M66.5 56.5h0.8M97.2 68.1h0.2M92.3 70.6h0.2M49.8 11.9h0.8M46.1 10.2h0.8M3.2 46.5h0.5M-7.1 45.8h0.5M18.3 36.9h0.8M26.3 36.2h0.5M24.2 35.7h0.8M83.3 27.8h0.5M85.1 27.1h0.5M90.5 27.7h0.2M37.2 40.9h0.8M35.8 40.8h0.5M30.5 42.2h0.5M87.5 62.8h0.5M80.3 61.0h0.5M17.2 5.2h0.8M59.7 28.1h0.5M51.5 28.4h0.5M60.2 25.4h0.8M45.6 27.7h0.5M48.1 27.8h0.8M58.0 27.5h0.2M12.4 60.0h0.2M7.1 60.0h0.2M16.7 59.6h0.8M45.4 16.8h0.5M35.4 42.1h0.5M30.9 41.8h0.5M33.8 42.4h0.2M34.8 42.4h0.5M14.4 58.2h0.2M11.2 60.2h0.8M10.0 56.8h0.5M86.3 13.0h0.2M86.9 11.5h0.8M53.3 58.3h0.5M56.5 59.7h0.8M64.6 63.5h0.2M67.5 63.5h0.2M14.5 19.2h0.8M-5.0 20.1h0.5M96.1 63.5h0.8M88.2 64.2h0.2M99.3 63.2h0.8M96.5 64.2h0.8M90.9 62.2h0.5M37.3 62.4h0.2M4.2 39.2h0.5M2.9 40.9h0.2M-2.6 40.1h0.8M0.4 40.9h0.5M-9.0 38.8h0.8M18.4 46.7h0.5M23.3 47.1h0.2M88.9 31.5h0.5M85.2 33.5h0.5M27.6 7.2h0.8M21.7 9.1h0.8M19.2 9.3h0.5M17.3 16.9h0.2M27.8 16.9h0.5M34.7 43.7h0.2M51.1 22.3h0.8M-5.7 9.2h0.2M4.5 8.2h0.8M20.1 33.5h0.4M83.5 69.0h0.1M69.4 15.5h0.1M92.7 18.4h0.1M28.7 50.4h0.1M36.4 15.3h0.1M82.6 21.6h0.1M71.5 20.3h0.4M57.8 10.6h0.1M2.9 68.4h0.4M62.6 9.8h0.4M18.3 27.7h0.4M57.8 8.0h0.1M58.9 44.1h0.1M63.6 59.2h0.1M25.7 68.0h0.1M55.6 27.2h0.1M66.4 13.8h0.4M43.8 33.5h0.1M46.0 32.2h0.4M43.0 11.6h0.4M44.8 13.8h0.4M41.2 12.6h0.4M0.2 48.0h0.4M33.4 22.6h0.1M41.6 31.4h0.1M86.2 5.8h0.4M81.0 60.3h0.4M93.7 41.2h0.4M75.9 8.9h0.4M66.1 40.3h0.1M4.7 36.4h0.4M8.8 36.6h0.4M3.2 60.5h0.4M40.6 72.8h0.4M91.5 18.0h0.4M87.7 43.4h0.4M78.3 19.7h0.1M38.2 42.5h0.4M26.7 51.0h0.1M37.0 54.6h0.1M94.9 63.8h0.1M64.4 64.3h0.4M30.8 22.7h0.1M24.6 22.3h0.1M4.6 2.6h0.1M89.4 44.9h0.4M27.5 51.9h0.4M28.2 23.5h0.1M72.4 26.8h0.1M50.0 23.2h0.4M43.5 72.3h0.1M89.2 14.8h0.1M17.1 6.0h0.4M46.3 41.2h0.1M15.8 25.2h0.1M72.8 25.2h0.1M49.9 8.2h0.4M32.5 15.0h0.4M18.4 38.1h0.1M48.4 7.7h0.1M24.5 54.9h0.1M3.9 43.9h0.4M62.6 3.0h0.1M63.3 17.0h0.4M34.2 41.2h0.1M84.9 67.4h0.4M81.0 18.7h0.4M85.9 24.0h0.4M33.4 37.2h0.4M90.1 60.8h0.1M44.0 8.8h0.1M40.7 9.5h0.4M47.4 29.7h0.1M37.9 34.9h0.4M19.8 2.9h0.4" stroke="#60a058" stroke-opacity="0.55" stroke-width="1.2"/>
<path d="M53.9 31.5h0.8M56.2 31.8h0.8M34.1 43.8h0.2M35.1 45.1h0.8M67.0 18.8h0.2M98.1 41.2h0.5M100.1 40.9h0.2M22.6 55.5h0.5M15.6 54.6h0.2M12.8 56.3h0.8M68.7 58.0h0.8M96.3 69.9h0.5M45.9 10.4h0.8M45.2 11.0h0.5M47.0 12.3h0.8M-4.7 48.7h0.2M-7.1 47.9h0.2M-8.0 47.9h0.8M35.7 39.9h0.2M85.2 65.0h0.5M95.2 62.3h0.8M82.0 62.7h0.5M81.2 61.3h0.8M22.4 3.3h0.2M21.6 4.4h0.2M22.6 2.9h0.8M18.9 3.9h0.8M61.6 31.0h0.2M61.4 29.3h0.5M60.7 30.4h0.5M14.4 61.0h0.5M9.9 62.9h0.8M41.1 15.9h0.8M33.6 43.5h0.5M11.5 56.8h0.5M16.2 59.9h0.5M87.4 12.4h0.5M53.7 60.5h0.5M67.2 62.9h0.8M65.0 63.6h0.2M75.2 63.7h0.2M7.1 21.4h0.8M13.5 20.5h0.8M8.9 17.4h0.2M8.2 19.5h0.5M44.0 63.3h0.2M23.1 48.0h0.2M21.6 47.8h0.2M84.4 33.4h0.8M83.6 31.4h0.5M88.6 32.5h0.8M18.4 7.1h0.5M33.7 8.1h0.8M24.0 8.3h0.2M30.7 18.5h0.2M20.2 17.4h0.2M22.9 17.5h0.5M24.4 19.0h0.2M36.6 44.7h0.2M54.3 22.0h0.5M53.3 22.3h0.2M50.7 23.7h0.5M-6.0 9.9h0.5M56.9 44.8h0.2M53.2 44.1h0.8M49.1 43.8h0.8M47.3 46.0h0.2M56.0 46.3h0.2M56.6 44.2h0.2" stroke="#6ab462" stroke-opacity="0.7" stroke-width="1.3"/>
<path d="M62.3 32.2h0.5M62.7 29.5h0.5M65.5 29.8h0.5M92.9 42.2h0.2M93.1 40.9h0.5M106.2 39.0h0.8M102.8 68.6h0.5M95.2 68.5h0.8M47.6 10.7h0.8M-1.1 46.9h0.5M87.9 27.7h0.8M89.9 62.9h0.5M85.3 63.8h0.8M87.6 62.1h0.2M96.9 62.2h0.8M58.7 29.6h0.5M42.2 17.3h0.8M46.0 15.7h0.8M55.5 60.6h0.8M57.3 59.2h0.5M18.8 46.3h0.8M31.7 20.5h0.8M27.0 19.7h0.5M23.5 18.9h0.8M34.1 44.4h0.8M55.4 43.1h0.8M59.3 46.3h0.2M85.1 2.7h0.3M56.9 44.1h0.3M44.5 59.3h0.3M60.8 17.2h0.3M21.1 64.8h0.3M57.4 62.7h0.3M31.4 41.7h0.3M85.2 58.0h0.3M67.4 58.8h0.3M25.0 67.5h0.3M0.4 71.6h0.3M16.2 64.7h0.3M15.3 39.0h0.3M40.0 20.2h0.3" stroke="#7ac870" stroke-opacity="0.85" stroke-width="1.4"/>
</g>
</svg>
<rect x="494.6" y="702.9" width="13.4" height="3.0" fill="#fff"/>
<text x="308.2" y="576.6" font-size="9.6" text-anchor="end" fill="#1a1a1a" textLength="13.3" lengthAdjust="spacingAndGlyphs" >WT</text>
<text x="308.2" y="661.9" font-size="9.6" text-anchor="end" fill="#1a1a1a" textLength="31.3" lengthAdjust="spacingAndGlyphs" >D1498A</text>
<text x="308.2" y="745.6" font-size="9.6" text-anchor="end" fill="#1a1a1a" textLength="32.2" lengthAdjust="spacingAndGlyphs" >R1597W</text>
<text x="308.6" y="792.0" font-size="9.4" text-anchor="end" fill="#1a1a1a" textLength="22" lengthAdjust="spacingAndGlyphs" >VWF :</text>
<text x="308.4" y="806.2" font-size="9.4" text-anchor="end" fill="#1a1a1a" textLength="21" lengthAdjust="spacingAndGlyphs" >conc.</text>
<text x="363.8" y="792.3" font-size="9.2" text-anchor="middle" fill="#1a1a1a" textLength="30.5" lengthAdjust="spacingAndGlyphs" >2µg/mL</text>
<text x="461.6" y="792.3" font-size="9.2" text-anchor="middle" fill="#1a1a1a" textLength="30.5" lengthAdjust="spacingAndGlyphs" >4µg/mL</text>
<rect x="0" y="0" width="520" height="1" fill="#7c7c7c"/>
<rect x="0" y="1" width="520" height="1" fill="#1e1e1e"/>
<rect x="0" y="0" width="1" height="867" fill="#000"/>
<rect x="1" y="2" width="1" height="863" fill="#888"/>
<rect x="519" y="0" width="1" height="867" fill="#000"/>
<rect x="518" y="2" width="1" height="863" fill="#888"/>
<rect x="0" y="865" width="520" height="1" fill="#1e1e1e"/>
<rect x="0" y="866" width="520" height="1" fill="#7c7c7c"/>
</svg>
</body></html>
